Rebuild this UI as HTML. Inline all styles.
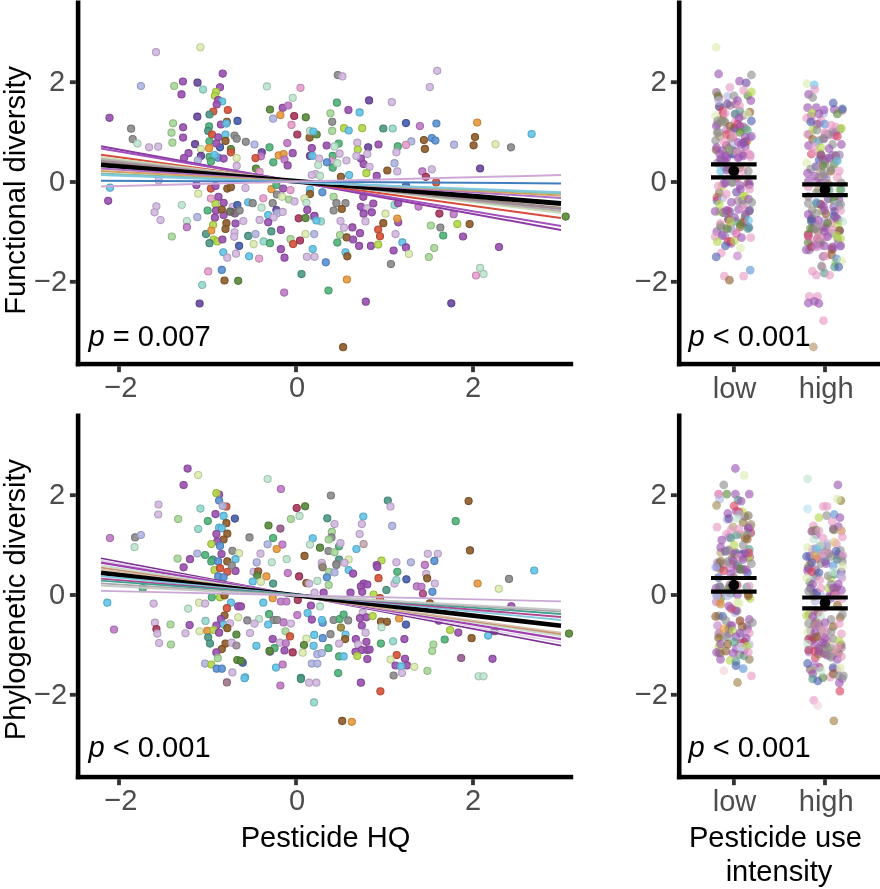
<!DOCTYPE html>
<html><head><meta charset="utf-8"><style>
html,body{margin:0;padding:0;background:#fff;width:880px;height:889px;overflow:hidden}
svg{display:block;font-family:"Liberation Sans", sans-serif;will-change:transform}
</style></head><body>
<svg width="880" height="889" viewBox="0 0 880 889"><rect width="880" height="889" fill="#fff"/><circle cx="156.0" cy="52.2" r="3.55" fill="#d2b8e0" fill-opacity="0.92" stroke="#b49ec0" stroke-width="1.1"/><circle cx="200.4" cy="47.3" r="3.55" fill="#dcecb0" fill-opacity="0.92" stroke="#bdca97" stroke-width="1.1"/><circle cx="222.7" cy="73.6" r="3.55" fill="#9a52b0" fill-opacity="0.92" stroke="#844697" stroke-width="1.1"/><circle cx="140.9" cy="86.0" r="3.55" fill="#b0b6e2" fill-opacity="0.92" stroke="#979cc2" stroke-width="1.1"/><circle cx="174.2" cy="86.0" r="3.55" fill="#a8d89a" fill-opacity="0.92" stroke="#90b984" stroke-width="1.1"/><circle cx="182.9" cy="81.5" r="3.55" fill="#9a52b0" fill-opacity="0.92" stroke="#844697" stroke-width="1.1"/><circle cx="197.5" cy="82.7" r="3.55" fill="#6c4a9e" fill-opacity="0.92" stroke="#5c3f87" stroke-width="1.1"/><circle cx="203.1" cy="89.6" r="3.55" fill="#96d8cc" fill-opacity="0.92" stroke="#81b9af" stroke-width="1.1"/><circle cx="181.5" cy="94.4" r="3.55" fill="#9a52b0" fill-opacity="0.92" stroke="#844697" stroke-width="1.1"/><circle cx="220.0" cy="87.3" r="3.55" fill="#9a52b0" fill-opacity="0.92" stroke="#844697" stroke-width="1.1"/><circle cx="216.0" cy="91.8" r="3.55" fill="#b4d84a" fill-opacity="0.92" stroke="#9ab93f" stroke-width="1.1"/><circle cx="214.9" cy="95.8" r="3.55" fill="#b4d84a" fill-opacity="0.92" stroke="#9ab93f" stroke-width="1.1"/><circle cx="218.2" cy="100.0" r="3.55" fill="#9a52b0" fill-opacity="0.92" stroke="#844697" stroke-width="1.1"/><circle cx="222.2" cy="101.5" r="3.55" fill="#64c4e6" fill-opacity="0.92" stroke="#56a8c5" stroke-width="1.1"/><circle cx="216.7" cy="104.5" r="3.55" fill="#9a52b0" fill-opacity="0.92" stroke="#844697" stroke-width="1.1"/><circle cx="213.3" cy="111.5" r="3.55" fill="#d4553a" fill-opacity="0.92" stroke="#b64931" stroke-width="1.1"/><circle cx="209.5" cy="114.5" r="3.55" fill="#4f9a88" fill-opacity="0.92" stroke="#438474" stroke-width="1.1"/><circle cx="227.8" cy="110.0" r="3.55" fill="#d4553a" fill-opacity="0.92" stroke="#b64931" stroke-width="1.1"/><circle cx="109.5" cy="117.8" r="3.55" fill="#9a52b0" fill-opacity="0.92" stroke="#844697" stroke-width="1.1"/><circle cx="197.3" cy="116.7" r="3.55" fill="#6c4a9e" fill-opacity="0.92" stroke="#5c3f87" stroke-width="1.1"/><circle cx="131.1" cy="128.7" r="3.55" fill="#8c8c8c" fill-opacity="0.92" stroke="#787878" stroke-width="1.1"/><circle cx="132.7" cy="139.1" r="3.55" fill="#8c8c8c" fill-opacity="0.92" stroke="#787878" stroke-width="1.1"/><circle cx="137.5" cy="143.6" r="3.55" fill="#bfe5cf" fill-opacity="0.92" stroke="#a4c4b2" stroke-width="1.1"/><circle cx="173.1" cy="123.3" r="3.55" fill="#a8d89a" fill-opacity="0.92" stroke="#90b984" stroke-width="1.1"/><circle cx="171.5" cy="132.7" r="3.55" fill="#a8d89a" fill-opacity="0.92" stroke="#90b984" stroke-width="1.1"/><circle cx="172.4" cy="142.7" r="3.55" fill="#a8d89a" fill-opacity="0.92" stroke="#90b984" stroke-width="1.1"/><circle cx="183.1" cy="127.3" r="3.55" fill="#9a52b0" fill-opacity="0.92" stroke="#844697" stroke-width="1.1"/><circle cx="183.1" cy="137.6" r="3.55" fill="#9a52b0" fill-opacity="0.92" stroke="#844697" stroke-width="1.1"/><circle cx="195.1" cy="144.2" r="3.55" fill="#6c4a9e" fill-opacity="0.92" stroke="#5c3f87" stroke-width="1.1"/><circle cx="149.1" cy="147.3" r="3.55" fill="#d2b8e0" fill-opacity="0.92" stroke="#b49ec0" stroke-width="1.1"/><circle cx="158.2" cy="146.7" r="3.55" fill="#d2b8e0" fill-opacity="0.92" stroke="#b49ec0" stroke-width="1.1"/><circle cx="209.1" cy="126.4" r="3.55" fill="#52b27a" fill-opacity="0.92" stroke="#469968" stroke-width="1.1"/><circle cx="208.2" cy="130.9" r="3.55" fill="#4f9a88" fill-opacity="0.92" stroke="#438474" stroke-width="1.1"/><circle cx="212.0" cy="134.5" r="3.55" fill="#d4553a" fill-opacity="0.92" stroke="#b64931" stroke-width="1.1"/><circle cx="209.5" cy="141.3" r="3.55" fill="#52b27a" fill-opacity="0.92" stroke="#469968" stroke-width="1.1"/><circle cx="220.9" cy="124.5" r="3.55" fill="#9a52b0" fill-opacity="0.92" stroke="#844697" stroke-width="1.1"/><circle cx="226.9" cy="121.8" r="3.55" fill="#8e5e2c" fill-opacity="0.92" stroke="#7a5025" stroke-width="1.1"/><circle cx="226.4" cy="123.6" r="3.55" fill="#64c4e6" fill-opacity="0.92" stroke="#56a8c5" stroke-width="1.1"/><circle cx="237.5" cy="120.9" r="3.55" fill="#4a5fae" fill-opacity="0.92" stroke="#3f5195" stroke-width="1.1"/><circle cx="218.2" cy="137.3" r="3.55" fill="#9a52b0" fill-opacity="0.92" stroke="#844697" stroke-width="1.1"/><circle cx="225.5" cy="134.5" r="3.55" fill="#64c4e6" fill-opacity="0.92" stroke="#56a8c5" stroke-width="1.1"/><circle cx="234.5" cy="135.5" r="3.55" fill="#8c8c8c" fill-opacity="0.92" stroke="#787878" stroke-width="1.1"/><circle cx="236.7" cy="138.7" r="3.55" fill="#8c8c8c" fill-opacity="0.92" stroke="#787878" stroke-width="1.1"/><circle cx="225.5" cy="140.9" r="3.55" fill="#8e5e2c" fill-opacity="0.92" stroke="#7a5025" stroke-width="1.1"/><circle cx="209.1" cy="148.2" r="3.55" fill="#e89a40" fill-opacity="0.92" stroke="#c78437" stroke-width="1.1"/><circle cx="220.0" cy="147.3" r="3.55" fill="#4a5fae" fill-opacity="0.92" stroke="#3f5195" stroke-width="1.1"/><circle cx="216.4" cy="143.6" r="3.55" fill="#9a52b0" fill-opacity="0.92" stroke="#844697" stroke-width="1.1"/><circle cx="230.9" cy="149.1" r="3.55" fill="#5a8a3c" fill-opacity="0.92" stroke="#4d7633" stroke-width="1.1"/><circle cx="337.8" cy="75.1" r="3.55" fill="#8c8c8c" fill-opacity="0.92" stroke="#787878" stroke-width="1.1"/><circle cx="342.4" cy="76.4" r="3.55" fill="#d2b8e0" fill-opacity="0.92" stroke="#b49ec0" stroke-width="1.1"/><circle cx="266.9" cy="86.4" r="3.55" fill="#bfe5cf" fill-opacity="0.92" stroke="#a4c4b2" stroke-width="1.1"/><circle cx="300.5" cy="87.8" r="3.55" fill="#e6a0cc" fill-opacity="0.92" stroke="#c589af" stroke-width="1.1"/><circle cx="292.7" cy="97.8" r="3.55" fill="#bfe5cf" fill-opacity="0.92" stroke="#a4c4b2" stroke-width="1.1"/><circle cx="270.0" cy="109.5" r="3.55" fill="#5a8a3c" fill-opacity="0.92" stroke="#4d7633" stroke-width="1.1"/><circle cx="282.7" cy="107.8" r="3.55" fill="#9a52b0" fill-opacity="0.92" stroke="#844697" stroke-width="1.1"/><circle cx="288.2" cy="105.5" r="3.55" fill="#c07cc8" fill-opacity="0.92" stroke="#a56aac" stroke-width="1.1"/><circle cx="280.4" cy="115.1" r="3.55" fill="#e89a40" fill-opacity="0.92" stroke="#c78437" stroke-width="1.1"/><circle cx="273.1" cy="118.7" r="3.55" fill="#b0b6e2" fill-opacity="0.92" stroke="#979cc2" stroke-width="1.1"/><circle cx="294.2" cy="116.0" r="3.55" fill="#a83a5e" fill-opacity="0.92" stroke="#903150" stroke-width="1.1"/><circle cx="305.8" cy="117.3" r="3.55" fill="#5a8a3c" fill-opacity="0.92" stroke="#4d7633" stroke-width="1.1"/><circle cx="291.5" cy="124.9" r="3.55" fill="#e6a0cc" fill-opacity="0.92" stroke="#c589af" stroke-width="1.1"/><circle cx="297.3" cy="134.5" r="3.55" fill="#a83a5e" fill-opacity="0.92" stroke="#903150" stroke-width="1.1"/><circle cx="309.6" cy="137.6" r="3.55" fill="#8e5e2c" fill-opacity="0.92" stroke="#7a5025" stroke-width="1.1"/><circle cx="316.7" cy="134.5" r="3.55" fill="#5a8a3c" fill-opacity="0.92" stroke="#4d7633" stroke-width="1.1"/><circle cx="310.0" cy="130.9" r="3.55" fill="#bfe5cf" fill-opacity="0.92" stroke="#a4c4b2" stroke-width="1.1"/><circle cx="313.3" cy="131.5" r="3.55" fill="#64c4e6" fill-opacity="0.92" stroke="#56a8c5" stroke-width="1.1"/><circle cx="245.8" cy="141.8" r="3.55" fill="#8c8c8c" fill-opacity="0.92" stroke="#787878" stroke-width="1.1"/><circle cx="254.5" cy="144.5" r="3.55" fill="#b0b6e2" fill-opacity="0.92" stroke="#979cc2" stroke-width="1.1"/><circle cx="287.3" cy="143.1" r="3.55" fill="#c07cc8" fill-opacity="0.92" stroke="#a56aac" stroke-width="1.1"/><circle cx="269.5" cy="147.3" r="3.55" fill="#52b27a" fill-opacity="0.92" stroke="#469968" stroke-width="1.1"/><circle cx="336.9" cy="102.7" r="3.55" fill="#52b27a" fill-opacity="0.92" stroke="#469968" stroke-width="1.1"/><circle cx="330.4" cy="113.3" r="3.55" fill="#a8d89a" fill-opacity="0.92" stroke="#90b984" stroke-width="1.1"/><circle cx="332.2" cy="121.8" r="3.55" fill="#8c8c8c" fill-opacity="0.92" stroke="#787878" stroke-width="1.1"/><circle cx="332.2" cy="130.9" r="3.55" fill="#a8d89a" fill-opacity="0.92" stroke="#90b984" stroke-width="1.1"/><circle cx="348.4" cy="110.0" r="3.55" fill="#9a52b0" fill-opacity="0.92" stroke="#844697" stroke-width="1.1"/><circle cx="359.6" cy="112.4" r="3.55" fill="#64c4e6" fill-opacity="0.92" stroke="#56a8c5" stroke-width="1.1"/><circle cx="369.1" cy="100.4" r="3.55" fill="#6c4a9e" fill-opacity="0.92" stroke="#5c3f87" stroke-width="1.1"/><circle cx="391.8" cy="102.2" r="3.55" fill="#d2b8e0" fill-opacity="0.92" stroke="#b49ec0" stroke-width="1.1"/><circle cx="344.0" cy="128.2" r="3.55" fill="#b4d84a" fill-opacity="0.92" stroke="#9ab93f" stroke-width="1.1"/><circle cx="348.7" cy="130.5" r="3.55" fill="#64c4e6" fill-opacity="0.92" stroke="#56a8c5" stroke-width="1.1"/><circle cx="362.2" cy="128.2" r="3.55" fill="#b4d84a" fill-opacity="0.92" stroke="#9ab93f" stroke-width="1.1"/><circle cx="383.3" cy="128.5" r="3.55" fill="#4f9a88" fill-opacity="0.92" stroke="#438474" stroke-width="1.1"/><circle cx="392.7" cy="128.5" r="3.55" fill="#96d8cc" fill-opacity="0.92" stroke="#81b9af" stroke-width="1.1"/><circle cx="311.8" cy="148.2" r="3.55" fill="#9a52b0" fill-opacity="0.92" stroke="#844697" stroke-width="1.1"/><circle cx="326.7" cy="145.5" r="3.55" fill="#9a52b0" fill-opacity="0.92" stroke="#844697" stroke-width="1.1"/><circle cx="338.7" cy="143.6" r="3.55" fill="#52b27a" fill-opacity="0.92" stroke="#469968" stroke-width="1.1"/><circle cx="334.5" cy="146.4" r="3.55" fill="#bfe5cf" fill-opacity="0.92" stroke="#a4c4b2" stroke-width="1.1"/><circle cx="357.3" cy="142.7" r="3.55" fill="#d2b8e0" fill-opacity="0.92" stroke="#b49ec0" stroke-width="1.1"/><circle cx="368.2" cy="147.3" r="3.55" fill="#6c4a9e" fill-opacity="0.92" stroke="#5c3f87" stroke-width="1.1"/><circle cx="378.5" cy="144.5" r="3.55" fill="#9a52b0" fill-opacity="0.92" stroke="#844697" stroke-width="1.1"/><circle cx="397.8" cy="146.4" r="3.55" fill="#52b27a" fill-opacity="0.92" stroke="#469968" stroke-width="1.1"/><circle cx="437.2" cy="70.8" r="3.55" fill="#d2b8e0" fill-opacity="0.92" stroke="#b49ec0" stroke-width="1.1"/><circle cx="429.8" cy="87.1" r="3.55" fill="#d2b8e0" fill-opacity="0.92" stroke="#b49ec0" stroke-width="1.1"/><circle cx="406.0" cy="123.1" r="3.55" fill="#4a5fae" fill-opacity="0.92" stroke="#3f5195" stroke-width="1.1"/><circle cx="419.9" cy="126.1" r="3.55" fill="#c07cc8" fill-opacity="0.92" stroke="#a56aac" stroke-width="1.1"/><circle cx="436.4" cy="123.5" r="3.55" fill="#5b93d4" fill-opacity="0.92" stroke="#4e7eb6" stroke-width="1.1"/><circle cx="477.2" cy="122.5" r="3.55" fill="#e89a40" fill-opacity="0.92" stroke="#c78437" stroke-width="1.1"/><circle cx="531.6" cy="134.0" r="3.55" fill="#64c4e6" fill-opacity="0.92" stroke="#56a8c5" stroke-width="1.1"/><circle cx="423.9" cy="140.0" r="3.55" fill="#8e5e2c" fill-opacity="0.92" stroke="#7a5025" stroke-width="1.1"/><circle cx="411.3" cy="141.4" r="3.55" fill="#b0b6e2" fill-opacity="0.92" stroke="#979cc2" stroke-width="1.1"/><circle cx="406.0" cy="144.9" r="3.55" fill="#e6a0cc" fill-opacity="0.92" stroke="#c589af" stroke-width="1.1"/><circle cx="431.8" cy="138.0" r="3.55" fill="#5b93d4" fill-opacity="0.92" stroke="#4e7eb6" stroke-width="1.1"/><circle cx="435.4" cy="140.6" r="3.55" fill="#5b93d4" fill-opacity="0.92" stroke="#4e7eb6" stroke-width="1.1"/><circle cx="454.1" cy="144.7" r="3.55" fill="#b0b6e2" fill-opacity="0.92" stroke="#979cc2" stroke-width="1.1"/><circle cx="475.0" cy="137.0" r="3.55" fill="#8e5e2c" fill-opacity="0.92" stroke="#7a5025" stroke-width="1.1"/><circle cx="473.6" cy="145.3" r="3.55" fill="#8e5e2c" fill-opacity="0.92" stroke="#7a5025" stroke-width="1.1"/><circle cx="495.5" cy="144.3" r="3.55" fill="#dcecb0" fill-opacity="0.92" stroke="#bdca97" stroke-width="1.1"/><circle cx="511.0" cy="147.3" r="3.55" fill="#8c8c8c" fill-opacity="0.92" stroke="#787878" stroke-width="1.1"/><circle cx="424.9" cy="148.9" r="3.55" fill="#8e5e2c" fill-opacity="0.92" stroke="#7a5025" stroke-width="1.1"/><circle cx="188.5" cy="153.2" r="3.55" fill="#9a52b0" fill-opacity="0.92" stroke="#844697" stroke-width="1.1"/><circle cx="184.0" cy="158.1" r="3.55" fill="#9a52b0" fill-opacity="0.92" stroke="#844697" stroke-width="1.1"/><circle cx="200.9" cy="149.0" r="3.55" fill="#dcecb0" fill-opacity="0.92" stroke="#bdca97" stroke-width="1.1"/><circle cx="218.2" cy="157.7" r="3.55" fill="#5b93d4" fill-opacity="0.92" stroke="#4e7eb6" stroke-width="1.1"/><circle cx="209.5" cy="156.8" r="3.55" fill="#52b27a" fill-opacity="0.92" stroke="#469968" stroke-width="1.1"/><circle cx="214.5" cy="155.0" r="3.55" fill="#64c4e6" fill-opacity="0.92" stroke="#56a8c5" stroke-width="1.1"/><circle cx="223.6" cy="158.6" r="3.55" fill="#9a52b0" fill-opacity="0.92" stroke="#844697" stroke-width="1.1"/><circle cx="200.9" cy="155.9" r="3.55" fill="#6c4a9e" fill-opacity="0.92" stroke="#5c3f87" stroke-width="1.1"/><circle cx="197.8" cy="160.5" r="3.55" fill="#b0b6e2" fill-opacity="0.92" stroke="#979cc2" stroke-width="1.1"/><circle cx="210.9" cy="161.4" r="3.55" fill="#52b27a" fill-opacity="0.92" stroke="#469968" stroke-width="1.1"/><circle cx="230.9" cy="152.3" r="3.55" fill="#d4553a" fill-opacity="0.92" stroke="#b64931" stroke-width="1.1"/><circle cx="236.7" cy="158.1" r="3.55" fill="#dcecb0" fill-opacity="0.92" stroke="#bdca97" stroke-width="1.1"/><circle cx="236.7" cy="165.9" r="3.55" fill="#d2b8e0" fill-opacity="0.92" stroke="#b49ec0" stroke-width="1.1"/><circle cx="110.0" cy="187.7" r="3.55" fill="#64c4e6" fill-opacity="0.92" stroke="#56a8c5" stroke-width="1.1"/><circle cx="108.2" cy="200.8" r="3.55" fill="#9a52b0" fill-opacity="0.92" stroke="#844697" stroke-width="1.1"/><circle cx="156.4" cy="206.3" r="3.55" fill="#d2b8e0" fill-opacity="0.92" stroke="#b49ec0" stroke-width="1.1"/><circle cx="154.5" cy="212.3" r="3.55" fill="#d2b8e0" fill-opacity="0.92" stroke="#b49ec0" stroke-width="1.1"/><circle cx="160.5" cy="220.1" r="3.55" fill="#d2b8e0" fill-opacity="0.92" stroke="#b49ec0" stroke-width="1.1"/><circle cx="158.7" cy="180.5" r="3.55" fill="#d2b8e0" fill-opacity="0.92" stroke="#b49ec0" stroke-width="1.1"/><circle cx="181.8" cy="205.0" r="3.55" fill="#bfe5cf" fill-opacity="0.92" stroke="#a4c4b2" stroke-width="1.1"/><circle cx="171.8" cy="236.5" r="3.55" fill="#a8d89a" fill-opacity="0.92" stroke="#90b984" stroke-width="1.1"/><circle cx="197.3" cy="217.2" r="3.55" fill="#b0b6e2" fill-opacity="0.92" stroke="#979cc2" stroke-width="1.1"/><circle cx="186.9" cy="221.0" r="3.55" fill="#bfe5cf" fill-opacity="0.92" stroke="#a4c4b2" stroke-width="1.1"/><circle cx="186.9" cy="227.2" r="3.55" fill="#c07cc8" fill-opacity="0.92" stroke="#a56aac" stroke-width="1.1"/><circle cx="196.4" cy="185.0" r="3.55" fill="#9a52b0" fill-opacity="0.92" stroke="#844697" stroke-width="1.1"/><circle cx="198.2" cy="193.7" r="3.55" fill="#dcecb0" fill-opacity="0.92" stroke="#bdca97" stroke-width="1.1"/><circle cx="210.9" cy="188.6" r="3.55" fill="#d4553a" fill-opacity="0.92" stroke="#b64931" stroke-width="1.1"/><circle cx="215.5" cy="185.9" r="3.55" fill="#9a52b0" fill-opacity="0.92" stroke="#844697" stroke-width="1.1"/><circle cx="227.3" cy="188.6" r="3.55" fill="#8e5e2c" fill-opacity="0.92" stroke="#7a5025" stroke-width="1.1"/><circle cx="230.9" cy="187.2" r="3.55" fill="#8e5e2c" fill-opacity="0.92" stroke="#7a5025" stroke-width="1.1"/><circle cx="210.9" cy="198.6" r="3.55" fill="#e6a0cc" fill-opacity="0.92" stroke="#c589af" stroke-width="1.1"/><circle cx="218.5" cy="196.8" r="3.55" fill="#9a52b0" fill-opacity="0.92" stroke="#844697" stroke-width="1.1"/><circle cx="223.6" cy="202.8" r="3.55" fill="#9a52b0" fill-opacity="0.92" stroke="#844697" stroke-width="1.1"/><circle cx="215.5" cy="204.1" r="3.55" fill="#b4d84a" fill-opacity="0.92" stroke="#9ab93f" stroke-width="1.1"/><circle cx="207.6" cy="210.5" r="3.55" fill="#52b27a" fill-opacity="0.92" stroke="#469968" stroke-width="1.1"/><circle cx="216.0" cy="210.5" r="3.55" fill="#9a52b0" fill-opacity="0.92" stroke="#844697" stroke-width="1.1"/><circle cx="223.6" cy="215.0" r="3.55" fill="#9a52b0" fill-opacity="0.92" stroke="#844697" stroke-width="1.1"/><circle cx="221.8" cy="209.5" r="3.55" fill="#8e5e2c" fill-opacity="0.92" stroke="#7a5025" stroke-width="1.1"/><circle cx="214.9" cy="217.7" r="3.55" fill="#9a52b0" fill-opacity="0.92" stroke="#844697" stroke-width="1.1"/><circle cx="232.7" cy="206.8" r="3.55" fill="#d2b8e0" fill-opacity="0.92" stroke="#b49ec0" stroke-width="1.1"/><circle cx="233.6" cy="212.3" r="3.55" fill="#8c8c8c" fill-opacity="0.92" stroke="#787878" stroke-width="1.1"/><circle cx="237.3" cy="205.0" r="3.55" fill="#4a5fae" fill-opacity="0.92" stroke="#3f5195" stroke-width="1.1"/><circle cx="213.1" cy="225.0" r="3.55" fill="#b4d84a" fill-opacity="0.92" stroke="#9ab93f" stroke-width="1.1"/><circle cx="226.4" cy="223.2" r="3.55" fill="#8e5e2c" fill-opacity="0.92" stroke="#7a5025" stroke-width="1.1"/><circle cx="225.5" cy="229.0" r="3.55" fill="#8e5e2c" fill-opacity="0.92" stroke="#7a5025" stroke-width="1.1"/><circle cx="235.5" cy="223.5" r="3.55" fill="#9a52b0" fill-opacity="0.92" stroke="#844697" stroke-width="1.1"/><circle cx="206.0" cy="234.1" r="3.55" fill="#4f9a88" fill-opacity="0.92" stroke="#438474" stroke-width="1.1"/><circle cx="211.3" cy="230.5" r="3.55" fill="#e89a40" fill-opacity="0.92" stroke="#c78437" stroke-width="1.1"/><circle cx="213.6" cy="239.5" r="3.55" fill="#b4d84a" fill-opacity="0.92" stroke="#9ab93f" stroke-width="1.1"/><circle cx="217.3" cy="241.4" r="3.55" fill="#b4d84a" fill-opacity="0.92" stroke="#9ab93f" stroke-width="1.1"/><circle cx="222.4" cy="239.5" r="3.55" fill="#9a52b0" fill-opacity="0.92" stroke="#844697" stroke-width="1.1"/><circle cx="209.5" cy="243.2" r="3.55" fill="#4f9a88" fill-opacity="0.92" stroke="#438474" stroke-width="1.1"/><circle cx="234.5" cy="232.3" r="3.55" fill="#d2b8e0" fill-opacity="0.92" stroke="#b49ec0" stroke-width="1.1"/><circle cx="234.2" cy="236.8" r="3.55" fill="#d2b8e0" fill-opacity="0.92" stroke="#b49ec0" stroke-width="1.1"/><circle cx="239.1" cy="245.9" r="3.55" fill="#4a5fae" fill-opacity="0.92" stroke="#3f5195" stroke-width="1.1"/><circle cx="223.3" cy="252.3" r="3.55" fill="#64c4e6" fill-opacity="0.92" stroke="#56a8c5" stroke-width="1.1"/><circle cx="227.3" cy="257.7" r="3.55" fill="#d2b8e0" fill-opacity="0.92" stroke="#b49ec0" stroke-width="1.1"/><circle cx="236.0" cy="253.7" r="3.55" fill="#d2b8e0" fill-opacity="0.92" stroke="#b49ec0" stroke-width="1.1"/><circle cx="261.8" cy="152.3" r="3.55" fill="#6c4a9e" fill-opacity="0.92" stroke="#5c3f87" stroke-width="1.1"/><circle cx="260.9" cy="156.3" r="3.55" fill="#c07cc8" fill-opacity="0.92" stroke="#a56aac" stroke-width="1.1"/><circle cx="255.5" cy="158.1" r="3.55" fill="#d4553a" fill-opacity="0.92" stroke="#b64931" stroke-width="1.1"/><circle cx="278.7" cy="155.4" r="3.55" fill="#e89a40" fill-opacity="0.92" stroke="#c78437" stroke-width="1.1"/><circle cx="283.6" cy="154.1" r="3.55" fill="#e89a40" fill-opacity="0.92" stroke="#c78437" stroke-width="1.1"/><circle cx="292.7" cy="153.2" r="3.55" fill="#9a52b0" fill-opacity="0.92" stroke="#844697" stroke-width="1.1"/><circle cx="284.5" cy="159.5" r="3.55" fill="#c07cc8" fill-opacity="0.92" stroke="#a56aac" stroke-width="1.1"/><circle cx="287.6" cy="165.4" r="3.55" fill="#9a52b0" fill-opacity="0.92" stroke="#844697" stroke-width="1.1"/><circle cx="273.3" cy="162.3" r="3.55" fill="#52b27a" fill-opacity="0.92" stroke="#469968" stroke-width="1.1"/><circle cx="256.0" cy="168.6" r="3.55" fill="#5a8a3c" fill-opacity="0.92" stroke="#4d7633" stroke-width="1.1"/><circle cx="259.6" cy="171.9" r="3.55" fill="#e6a0cc" fill-opacity="0.92" stroke="#c589af" stroke-width="1.1"/><circle cx="310.0" cy="155.9" r="3.55" fill="#6c4a9e" fill-opacity="0.92" stroke="#5c3f87" stroke-width="1.1"/><circle cx="312.4" cy="155.9" r="3.55" fill="#64c4e6" fill-opacity="0.92" stroke="#56a8c5" stroke-width="1.1"/><circle cx="319.1" cy="158.6" r="3.55" fill="#d2b8e0" fill-opacity="0.92" stroke="#b49ec0" stroke-width="1.1"/><circle cx="318.2" cy="165.0" r="3.55" fill="#bfe5cf" fill-opacity="0.92" stroke="#a4c4b2" stroke-width="1.1"/><circle cx="332.7" cy="155.9" r="3.55" fill="#52b27a" fill-opacity="0.92" stroke="#469968" stroke-width="1.1"/><circle cx="331.8" cy="161.4" r="3.55" fill="#e6a0cc" fill-opacity="0.92" stroke="#c589af" stroke-width="1.1"/><circle cx="332.7" cy="167.7" r="3.55" fill="#52b27a" fill-opacity="0.92" stroke="#469968" stroke-width="1.1"/><circle cx="326.9" cy="162.3" r="3.55" fill="#5b93d4" fill-opacity="0.92" stroke="#4e7eb6" stroke-width="1.1"/><circle cx="337.3" cy="163.2" r="3.55" fill="#bfe5cf" fill-opacity="0.92" stroke="#a4c4b2" stroke-width="1.1"/><circle cx="339.6" cy="153.7" r="3.55" fill="#d2b8e0" fill-opacity="0.92" stroke="#b49ec0" stroke-width="1.1"/><circle cx="346.4" cy="160.5" r="3.55" fill="#d2b8e0" fill-opacity="0.92" stroke="#b49ec0" stroke-width="1.1"/><circle cx="357.8" cy="149.5" r="3.55" fill="#b4d84a" fill-opacity="0.92" stroke="#9ab93f" stroke-width="1.1"/><circle cx="367.3" cy="154.1" r="3.55" fill="#d2b8e0" fill-opacity="0.92" stroke="#b49ec0" stroke-width="1.1"/><circle cx="360.9" cy="158.6" r="3.55" fill="#9a52b0" fill-opacity="0.92" stroke="#844697" stroke-width="1.1"/><circle cx="363.6" cy="164.1" r="3.55" fill="#9a52b0" fill-opacity="0.92" stroke="#844697" stroke-width="1.1"/><circle cx="356.4" cy="155.9" r="3.55" fill="#d2b8e0" fill-opacity="0.92" stroke="#b49ec0" stroke-width="1.1"/><circle cx="369.5" cy="166.8" r="3.55" fill="#d2b8e0" fill-opacity="0.92" stroke="#b49ec0" stroke-width="1.1"/><circle cx="387.3" cy="170.5" r="3.55" fill="#8e5e2c" fill-opacity="0.92" stroke="#7a5025" stroke-width="1.1"/><circle cx="397.3" cy="171.4" r="3.55" fill="#d2b8e0" fill-opacity="0.92" stroke="#b49ec0" stroke-width="1.1"/><circle cx="394.5" cy="163.2" r="3.55" fill="#b0b6e2" fill-opacity="0.92" stroke="#979cc2" stroke-width="1.1"/><circle cx="396.4" cy="152.3" r="3.55" fill="#d2b8e0" fill-opacity="0.92" stroke="#b49ec0" stroke-width="1.1"/><circle cx="366.4" cy="173.2" r="3.55" fill="#b4d84a" fill-opacity="0.92" stroke="#9ab93f" stroke-width="1.1"/><circle cx="376.7" cy="175.9" r="3.55" fill="#9a52b0" fill-opacity="0.92" stroke="#844697" stroke-width="1.1"/><circle cx="349.1" cy="175.0" r="3.55" fill="#64c4e6" fill-opacity="0.92" stroke="#56a8c5" stroke-width="1.1"/><circle cx="340.9" cy="176.8" r="3.55" fill="#8e5e2c" fill-opacity="0.92" stroke="#7a5025" stroke-width="1.1"/><circle cx="315.5" cy="174.1" r="3.55" fill="#d2b8e0" fill-opacity="0.92" stroke="#b49ec0" stroke-width="1.1"/><circle cx="311.8" cy="175.0" r="3.55" fill="#d2b8e0" fill-opacity="0.92" stroke="#b49ec0" stroke-width="1.1"/><circle cx="320.0" cy="175.9" r="3.55" fill="#bfe5cf" fill-opacity="0.92" stroke="#a4c4b2" stroke-width="1.1"/><circle cx="245.5" cy="188.1" r="3.55" fill="#d2b8e0" fill-opacity="0.92" stroke="#b49ec0" stroke-width="1.1"/><circle cx="271.5" cy="189.2" r="3.55" fill="#e89a40" fill-opacity="0.92" stroke="#c78437" stroke-width="1.1"/><circle cx="283.1" cy="188.6" r="3.55" fill="#9a52b0" fill-opacity="0.92" stroke="#844697" stroke-width="1.1"/><circle cx="290.5" cy="190.1" r="3.55" fill="#e6a0cc" fill-opacity="0.92" stroke="#c589af" stroke-width="1.1"/><circle cx="276.9" cy="194.5" r="3.55" fill="#8c8c8c" fill-opacity="0.92" stroke="#787878" stroke-width="1.1"/><circle cx="276.4" cy="185.0" r="3.55" fill="#52b27a" fill-opacity="0.92" stroke="#469968" stroke-width="1.1"/><circle cx="310.0" cy="189.5" r="3.55" fill="#64c4e6" fill-opacity="0.92" stroke="#56a8c5" stroke-width="1.1"/><circle cx="310.0" cy="194.1" r="3.55" fill="#8e5e2c" fill-opacity="0.92" stroke="#7a5025" stroke-width="1.1"/><circle cx="322.4" cy="192.3" r="3.55" fill="#5b93d4" fill-opacity="0.92" stroke="#4e7eb6" stroke-width="1.1"/><circle cx="363.3" cy="196.8" r="3.55" fill="#9a52b0" fill-opacity="0.92" stroke="#844697" stroke-width="1.1"/><circle cx="282.2" cy="196.8" r="3.55" fill="#dcecb0" fill-opacity="0.92" stroke="#bdca97" stroke-width="1.1"/><circle cx="263.3" cy="198.3" r="3.55" fill="#e6a0cc" fill-opacity="0.92" stroke="#c589af" stroke-width="1.1"/><circle cx="248.2" cy="202.3" r="3.55" fill="#64c4e6" fill-opacity="0.92" stroke="#56a8c5" stroke-width="1.1"/><circle cx="252.7" cy="203.2" r="3.55" fill="#8c8c8c" fill-opacity="0.92" stroke="#787878" stroke-width="1.1"/><circle cx="261.5" cy="207.7" r="3.55" fill="#bfe5cf" fill-opacity="0.92" stroke="#a4c4b2" stroke-width="1.1"/><circle cx="272.7" cy="203.2" r="3.55" fill="#8c8c8c" fill-opacity="0.92" stroke="#787878" stroke-width="1.1"/><circle cx="289.1" cy="199.5" r="3.55" fill="#a8d89a" fill-opacity="0.92" stroke="#90b984" stroke-width="1.1"/><circle cx="294.5" cy="201.4" r="3.55" fill="#d2b8e0" fill-opacity="0.92" stroke="#b49ec0" stroke-width="1.1"/><circle cx="304.5" cy="198.6" r="3.55" fill="#dcecb0" fill-opacity="0.92" stroke="#bdca97" stroke-width="1.1"/><circle cx="306.4" cy="202.8" r="3.55" fill="#bfe5cf" fill-opacity="0.92" stroke="#a4c4b2" stroke-width="1.1"/><circle cx="333.6" cy="196.8" r="3.55" fill="#a8d89a" fill-opacity="0.92" stroke="#90b984" stroke-width="1.1"/><circle cx="336.4" cy="203.2" r="3.55" fill="#8c8c8c" fill-opacity="0.92" stroke="#787878" stroke-width="1.1"/><circle cx="345.5" cy="203.2" r="3.55" fill="#8c8c8c" fill-opacity="0.92" stroke="#787878" stroke-width="1.1"/><circle cx="333.6" cy="210.5" r="3.55" fill="#8c8c8c" fill-opacity="0.92" stroke="#787878" stroke-width="1.1"/><circle cx="341.8" cy="209.0" r="3.55" fill="#8e5e2c" fill-opacity="0.92" stroke="#7a5025" stroke-width="1.1"/><circle cx="307.3" cy="209.9" r="3.55" fill="#9a52b0" fill-opacity="0.92" stroke="#844697" stroke-width="1.1"/><circle cx="276.4" cy="210.1" r="3.55" fill="#6c4a9e" fill-opacity="0.92" stroke="#5c3f87" stroke-width="1.1"/><circle cx="268.2" cy="215.0" r="3.55" fill="#64c4e6" fill-opacity="0.92" stroke="#56a8c5" stroke-width="1.1"/><circle cx="277.3" cy="213.2" r="3.55" fill="#b0b6e2" fill-opacity="0.92" stroke="#979cc2" stroke-width="1.1"/><circle cx="282.7" cy="211.9" r="3.55" fill="#d2b8e0" fill-opacity="0.92" stroke="#b49ec0" stroke-width="1.1"/><circle cx="273.6" cy="217.4" r="3.55" fill="#d2b8e0" fill-opacity="0.92" stroke="#b49ec0" stroke-width="1.1"/><circle cx="360.9" cy="206.8" r="3.55" fill="#9a52b0" fill-opacity="0.92" stroke="#844697" stroke-width="1.1"/><circle cx="367.3" cy="208.3" r="3.55" fill="#d2b8e0" fill-opacity="0.92" stroke="#b49ec0" stroke-width="1.1"/><circle cx="373.3" cy="203.5" r="3.55" fill="#9a52b0" fill-opacity="0.92" stroke="#844697" stroke-width="1.1"/><circle cx="363.6" cy="213.7" r="3.55" fill="#9a52b0" fill-opacity="0.92" stroke="#844697" stroke-width="1.1"/><circle cx="371.8" cy="212.3" r="3.55" fill="#9a52b0" fill-opacity="0.92" stroke="#844697" stroke-width="1.1"/><circle cx="385.5" cy="213.7" r="3.55" fill="#dcecb0" fill-opacity="0.92" stroke="#bdca97" stroke-width="1.1"/><circle cx="394.5" cy="205.0" r="3.55" fill="#96d8cc" fill-opacity="0.92" stroke="#81b9af" stroke-width="1.1"/><circle cx="398.2" cy="203.2" r="3.55" fill="#9a52b0" fill-opacity="0.92" stroke="#844697" stroke-width="1.1"/><circle cx="243.3" cy="221.0" r="3.55" fill="#d2b8e0" fill-opacity="0.92" stroke="#b49ec0" stroke-width="1.1"/><circle cx="259.6" cy="219.9" r="3.55" fill="#d2b8e0" fill-opacity="0.92" stroke="#b49ec0" stroke-width="1.1"/><circle cx="268.2" cy="222.3" r="3.55" fill="#9a52b0" fill-opacity="0.92" stroke="#844697" stroke-width="1.1"/><circle cx="298.7" cy="218.3" r="3.55" fill="#a83a5e" fill-opacity="0.92" stroke="#903150" stroke-width="1.1"/><circle cx="305.5" cy="218.1" r="3.55" fill="#5a8a3c" fill-opacity="0.92" stroke="#4d7633" stroke-width="1.1"/><circle cx="313.6" cy="216.8" r="3.55" fill="#b0b6e2" fill-opacity="0.92" stroke="#979cc2" stroke-width="1.1"/><circle cx="314.5" cy="215.9" r="3.55" fill="#9a52b0" fill-opacity="0.92" stroke="#844697" stroke-width="1.1"/><circle cx="320.9" cy="221.4" r="3.55" fill="#96d8cc" fill-opacity="0.92" stroke="#81b9af" stroke-width="1.1"/><circle cx="316.4" cy="220.5" r="3.55" fill="#64c4e6" fill-opacity="0.92" stroke="#56a8c5" stroke-width="1.1"/><circle cx="340.5" cy="221.0" r="3.55" fill="#d2b8e0" fill-opacity="0.92" stroke="#b49ec0" stroke-width="1.1"/><circle cx="344.0" cy="227.7" r="3.55" fill="#d2b8e0" fill-opacity="0.92" stroke="#b49ec0" stroke-width="1.1"/><circle cx="352.4" cy="227.4" r="3.55" fill="#9a52b0" fill-opacity="0.92" stroke="#844697" stroke-width="1.1"/><circle cx="365.5" cy="221.4" r="3.55" fill="#d2b8e0" fill-opacity="0.92" stroke="#b49ec0" stroke-width="1.1"/><circle cx="383.3" cy="223.2" r="3.55" fill="#8e5e2c" fill-opacity="0.92" stroke="#7a5025" stroke-width="1.1"/><circle cx="378.2" cy="229.5" r="3.55" fill="#d4553a" fill-opacity="0.92" stroke="#b64931" stroke-width="1.1"/><circle cx="380.0" cy="236.3" r="3.55" fill="#d4553a" fill-opacity="0.92" stroke="#b64931" stroke-width="1.1"/><circle cx="398.2" cy="222.3" r="3.55" fill="#9a52b0" fill-opacity="0.92" stroke="#844697" stroke-width="1.1"/><circle cx="397.3" cy="218.6" r="3.55" fill="#e89a40" fill-opacity="0.92" stroke="#c78437" stroke-width="1.1"/><circle cx="280.9" cy="229.9" r="3.55" fill="#9a52b0" fill-opacity="0.92" stroke="#844697" stroke-width="1.1"/><circle cx="271.3" cy="231.4" r="3.55" fill="#4f9a88" fill-opacity="0.92" stroke="#438474" stroke-width="1.1"/><circle cx="248.2" cy="235.9" r="3.55" fill="#4f9a88" fill-opacity="0.92" stroke="#438474" stroke-width="1.1"/><circle cx="255.5" cy="234.1" r="3.55" fill="#b0b6e2" fill-opacity="0.92" stroke="#979cc2" stroke-width="1.1"/><circle cx="305.5" cy="234.1" r="3.55" fill="#dcecb0" fill-opacity="0.92" stroke="#bdca97" stroke-width="1.1"/><circle cx="314.2" cy="234.1" r="3.55" fill="#b0b6e2" fill-opacity="0.92" stroke="#979cc2" stroke-width="1.1"/><circle cx="340.0" cy="235.0" r="3.55" fill="#a8d89a" fill-opacity="0.92" stroke="#90b984" stroke-width="1.1"/><circle cx="346.7" cy="237.4" r="3.55" fill="#8e5e2c" fill-opacity="0.92" stroke="#7a5025" stroke-width="1.1"/><circle cx="353.1" cy="239.5" r="3.55" fill="#9a52b0" fill-opacity="0.92" stroke="#844697" stroke-width="1.1"/><circle cx="360.0" cy="233.2" r="3.55" fill="#9a52b0" fill-opacity="0.92" stroke="#844697" stroke-width="1.1"/><circle cx="395.5" cy="234.1" r="3.55" fill="#d2b8e0" fill-opacity="0.92" stroke="#b49ec0" stroke-width="1.1"/><circle cx="337.3" cy="242.6" r="3.55" fill="#52b27a" fill-opacity="0.92" stroke="#469968" stroke-width="1.1"/><circle cx="359.1" cy="245.9" r="3.55" fill="#9a52b0" fill-opacity="0.92" stroke="#844697" stroke-width="1.1"/><circle cx="370.9" cy="245.9" r="3.55" fill="#9a52b0" fill-opacity="0.92" stroke="#844697" stroke-width="1.1"/><circle cx="378.2" cy="244.6" r="3.55" fill="#b4d84a" fill-opacity="0.92" stroke="#9ab93f" stroke-width="1.1"/><circle cx="263.6" cy="241.4" r="3.55" fill="#96d8cc" fill-opacity="0.92" stroke="#81b9af" stroke-width="1.1"/><circle cx="270.0" cy="243.2" r="3.55" fill="#52b27a" fill-opacity="0.92" stroke="#469968" stroke-width="1.1"/><circle cx="253.6" cy="244.1" r="3.55" fill="#dcecb0" fill-opacity="0.92" stroke="#bdca97" stroke-width="1.1"/><circle cx="290.5" cy="239.2" r="3.55" fill="#a8d89a" fill-opacity="0.92" stroke="#90b984" stroke-width="1.1"/><circle cx="293.1" cy="244.1" r="3.55" fill="#d4553a" fill-opacity="0.92" stroke="#b64931" stroke-width="1.1"/><circle cx="300.0" cy="240.5" r="3.55" fill="#a83a5e" fill-opacity="0.92" stroke="#903150" stroke-width="1.1"/><circle cx="280.9" cy="249.2" r="3.55" fill="#9a52b0" fill-opacity="0.92" stroke="#844697" stroke-width="1.1"/><circle cx="312.7" cy="249.0" r="3.55" fill="#64c4e6" fill-opacity="0.92" stroke="#56a8c5" stroke-width="1.1"/><circle cx="249.1" cy="256.3" r="3.55" fill="#64c4e6" fill-opacity="0.92" stroke="#56a8c5" stroke-width="1.1"/><circle cx="259.1" cy="258.6" r="3.55" fill="#e6a0cc" fill-opacity="0.92" stroke="#c589af" stroke-width="1.1"/><circle cx="284.5" cy="257.7" r="3.55" fill="#9a52b0" fill-opacity="0.92" stroke="#844697" stroke-width="1.1"/><circle cx="306.9" cy="256.8" r="3.55" fill="#d2b8e0" fill-opacity="0.92" stroke="#b49ec0" stroke-width="1.1"/><circle cx="314.5" cy="256.8" r="3.55" fill="#d2b8e0" fill-opacity="0.92" stroke="#b49ec0" stroke-width="1.1"/><circle cx="345.5" cy="252.3" r="3.55" fill="#64c4e6" fill-opacity="0.92" stroke="#56a8c5" stroke-width="1.1"/><circle cx="347.3" cy="256.3" r="3.55" fill="#8e5e2c" fill-opacity="0.92" stroke="#7a5025" stroke-width="1.1"/><circle cx="325.8" cy="262.3" r="3.55" fill="#5b93d4" fill-opacity="0.92" stroke="#4e7eb6" stroke-width="1.1"/><circle cx="393.6" cy="250.5" r="3.55" fill="#9a52b0" fill-opacity="0.92" stroke="#844697" stroke-width="1.1"/><circle cx="390.9" cy="264.1" r="3.55" fill="#8c8c8c" fill-opacity="0.92" stroke="#787878" stroke-width="1.1"/><circle cx="422.3" cy="171.4" r="3.55" fill="#c07cc8" fill-opacity="0.92" stroke="#a56aac" stroke-width="1.1"/><circle cx="431.8" cy="169.3" r="3.55" fill="#d2b8e0" fill-opacity="0.92" stroke="#b49ec0" stroke-width="1.1"/><circle cx="425.9" cy="176.8" r="3.55" fill="#a83a5e" fill-opacity="0.92" stroke="#903150" stroke-width="1.1"/><circle cx="436.2" cy="182.4" r="3.55" fill="#d4553a" fill-opacity="0.92" stroke="#b64931" stroke-width="1.1"/><circle cx="480.1" cy="168.5" r="3.55" fill="#6c4a9e" fill-opacity="0.92" stroke="#5c3f87" stroke-width="1.1"/><circle cx="406.0" cy="185.8" r="3.55" fill="#4a5fae" fill-opacity="0.92" stroke="#3f5195" stroke-width="1.1"/><circle cx="418.5" cy="206.6" r="3.55" fill="#c07cc8" fill-opacity="0.92" stroke="#a56aac" stroke-width="1.1"/><circle cx="439.4" cy="213.6" r="3.55" fill="#a83a5e" fill-opacity="0.92" stroke="#903150" stroke-width="1.1"/><circle cx="453.7" cy="214.2" r="3.55" fill="#c07cc8" fill-opacity="0.92" stroke="#a56aac" stroke-width="1.1"/><circle cx="430.8" cy="225.5" r="3.55" fill="#a8d89a" fill-opacity="0.92" stroke="#90b984" stroke-width="1.1"/><circle cx="440.4" cy="227.5" r="3.55" fill="#8c8c8c" fill-opacity="0.92" stroke="#787878" stroke-width="1.1"/><circle cx="457.3" cy="224.1" r="3.55" fill="#b4d84a" fill-opacity="0.92" stroke="#9ab93f" stroke-width="1.1"/><circle cx="469.6" cy="224.1" r="3.55" fill="#8e5e2c" fill-opacity="0.92" stroke="#7a5025" stroke-width="1.1"/><circle cx="443.2" cy="235.5" r="3.55" fill="#52b27a" fill-opacity="0.92" stroke="#469968" stroke-width="1.1"/><circle cx="463.0" cy="236.5" r="3.55" fill="#9a52b0" fill-opacity="0.92" stroke="#844697" stroke-width="1.1"/><circle cx="402.4" cy="242.4" r="3.55" fill="#64c4e6" fill-opacity="0.92" stroke="#56a8c5" stroke-width="1.1"/><circle cx="406.0" cy="247.4" r="3.55" fill="#9a52b0" fill-opacity="0.92" stroke="#844697" stroke-width="1.1"/><circle cx="434.2" cy="248.0" r="3.55" fill="#a8d89a" fill-opacity="0.92" stroke="#90b984" stroke-width="1.1"/><circle cx="499.0" cy="247.0" r="3.55" fill="#9a52b0" fill-opacity="0.92" stroke="#844697" stroke-width="1.1"/><circle cx="408.9" cy="254.0" r="3.55" fill="#dcecb0" fill-opacity="0.92" stroke="#bdca97" stroke-width="1.1"/><circle cx="428.8" cy="257.0" r="3.55" fill="#a8d89a" fill-opacity="0.92" stroke="#90b984" stroke-width="1.1"/><circle cx="565.7" cy="216.6" r="3.55" fill="#5a8a3c" fill-opacity="0.92" stroke="#4d7633" stroke-width="1.1"/><circle cx="208.2" cy="271.4" r="3.55" fill="#e6a0cc" fill-opacity="0.92" stroke="#c589af" stroke-width="1.1"/><circle cx="221.8" cy="269.9" r="3.55" fill="#5b93d4" fill-opacity="0.92" stroke="#4e7eb6" stroke-width="1.1"/><circle cx="224.5" cy="280.5" r="3.55" fill="#8e5e2c" fill-opacity="0.92" stroke="#7a5025" stroke-width="1.1"/><circle cx="238.2" cy="280.8" r="3.55" fill="#5a8a3c" fill-opacity="0.92" stroke="#4d7633" stroke-width="1.1"/><circle cx="202.2" cy="285.0" r="3.55" fill="#96d8cc" fill-opacity="0.92" stroke="#81b9af" stroke-width="1.1"/><circle cx="199.6" cy="303.5" r="3.55" fill="#6c4a9e" fill-opacity="0.92" stroke="#5c3f87" stroke-width="1.1"/><circle cx="301.5" cy="274.1" r="3.55" fill="#4f9a88" fill-opacity="0.92" stroke="#438474" stroke-width="1.1"/><circle cx="346.9" cy="279.5" r="3.55" fill="#e89a40" fill-opacity="0.92" stroke="#c78437" stroke-width="1.1"/><circle cx="284.2" cy="292.6" r="3.55" fill="#c07cc8" fill-opacity="0.92" stroke="#a56aac" stroke-width="1.1"/><circle cx="328.5" cy="290.5" r="3.55" fill="#52b27a" fill-opacity="0.92" stroke="#469968" stroke-width="1.1"/><circle cx="365.8" cy="301.7" r="3.55" fill="#9a52b0" fill-opacity="0.92" stroke="#844697" stroke-width="1.1"/><circle cx="343.1" cy="347.2" r="3.55" fill="#8e5e2c" fill-opacity="0.92" stroke="#7a5025" stroke-width="1.1"/><circle cx="480.1" cy="267.9" r="3.55" fill="#bfe5cf" fill-opacity="0.92" stroke="#a4c4b2" stroke-width="1.1"/><circle cx="483.5" cy="273.9" r="3.55" fill="#bfe5cf" fill-opacity="0.92" stroke="#a4c4b2" stroke-width="1.1"/><circle cx="476.0" cy="275.5" r="3.55" fill="#e6a0cc" fill-opacity="0.92" stroke="#c589af" stroke-width="1.1"/><circle cx="451.3" cy="303.3" r="3.55" fill="#6c4a9e" fill-opacity="0.92" stroke="#5c3f87" stroke-width="1.1"/><circle cx="234.9" cy="213.5" r="3.55" fill="#8a7090" fill-opacity="0.92" stroke="#76607b" stroke-width="1.1"/><circle cx="239.6" cy="210.6" r="3.55" fill="#8c8c8c" fill-opacity="0.92" stroke="#787878" stroke-width="1.1"/><circle cx="230.1" cy="211.7" r="3.55" fill="#707060" fill-opacity="0.92" stroke="#606052" stroke-width="1.1"/><circle cx="187.6" cy="468.6" r="3.55" fill="#9a52b0" fill-opacity="0.92" stroke="#844697" stroke-width="1.1"/><circle cx="198.2" cy="475.0" r="3.55" fill="#dcecb0" fill-opacity="0.92" stroke="#bdca97" stroke-width="1.1"/><circle cx="183.6" cy="485.0" r="3.55" fill="#9a52b0" fill-opacity="0.92" stroke="#844697" stroke-width="1.1"/><circle cx="219.1" cy="494.5" r="3.55" fill="#9a52b0" fill-opacity="0.92" stroke="#844697" stroke-width="1.1"/><circle cx="216.4" cy="493.2" r="3.55" fill="#b4d84a" fill-opacity="0.92" stroke="#9ab93f" stroke-width="1.1"/><circle cx="219.1" cy="500.5" r="3.55" fill="#5b93d4" fill-opacity="0.92" stroke="#4e7eb6" stroke-width="1.1"/><circle cx="226.4" cy="506.5" r="3.55" fill="#d4553a" fill-opacity="0.92" stroke="#b64931" stroke-width="1.1"/><circle cx="222.7" cy="505.9" r="3.55" fill="#b0b6e2" fill-opacity="0.92" stroke="#979cc2" stroke-width="1.1"/><circle cx="158.5" cy="504.5" r="3.55" fill="#d2b8e0" fill-opacity="0.92" stroke="#b49ec0" stroke-width="1.1"/><circle cx="158.2" cy="514.5" r="3.55" fill="#d2b8e0" fill-opacity="0.92" stroke="#b49ec0" stroke-width="1.1"/><circle cx="200.4" cy="508.6" r="3.55" fill="#96d8cc" fill-opacity="0.92" stroke="#81b9af" stroke-width="1.1"/><circle cx="178.2" cy="519.0" r="3.55" fill="#a8d89a" fill-opacity="0.92" stroke="#90b984" stroke-width="1.1"/><circle cx="215.5" cy="514.1" r="3.55" fill="#9a52b0" fill-opacity="0.92" stroke="#844697" stroke-width="1.1"/><circle cx="223.6" cy="515.9" r="3.55" fill="#64c4e6" fill-opacity="0.92" stroke="#56a8c5" stroke-width="1.1"/><circle cx="234.9" cy="518.6" r="3.55" fill="#4a5fae" fill-opacity="0.92" stroke="#3f5195" stroke-width="1.1"/><circle cx="207.8" cy="521.0" r="3.55" fill="#52b27a" fill-opacity="0.92" stroke="#469968" stroke-width="1.1"/><circle cx="226.4" cy="523.2" r="3.55" fill="#8e5e2c" fill-opacity="0.92" stroke="#7a5025" stroke-width="1.1"/><circle cx="198.2" cy="529.0" r="3.55" fill="#96d8cc" fill-opacity="0.92" stroke="#81b9af" stroke-width="1.1"/><circle cx="219.1" cy="527.7" r="3.55" fill="#64c4e6" fill-opacity="0.92" stroke="#56a8c5" stroke-width="1.1"/><circle cx="221.8" cy="528.3" r="3.55" fill="#64c4e6" fill-opacity="0.92" stroke="#56a8c5" stroke-width="1.1"/><circle cx="216.4" cy="534.1" r="3.55" fill="#9a52b0" fill-opacity="0.92" stroke="#844697" stroke-width="1.1"/><circle cx="227.3" cy="533.7" r="3.55" fill="#8e5e2c" fill-opacity="0.92" stroke="#7a5025" stroke-width="1.1"/><circle cx="223.6" cy="539.5" r="3.55" fill="#8e5e2c" fill-opacity="0.92" stroke="#7a5025" stroke-width="1.1"/><circle cx="217.3" cy="541.4" r="3.55" fill="#9a52b0" fill-opacity="0.92" stroke="#844697" stroke-width="1.1"/><circle cx="211.3" cy="544.1" r="3.55" fill="#b4d84a" fill-opacity="0.92" stroke="#9ab93f" stroke-width="1.1"/><circle cx="220.0" cy="545.9" r="3.55" fill="#5b93d4" fill-opacity="0.92" stroke="#4e7eb6" stroke-width="1.1"/><circle cx="110.0" cy="538.1" r="3.55" fill="#c07cc8" fill-opacity="0.92" stroke="#a56aac" stroke-width="1.1"/><circle cx="135.1" cy="537.4" r="3.55" fill="#8c8c8c" fill-opacity="0.92" stroke="#787878" stroke-width="1.1"/><circle cx="140.9" cy="535.0" r="3.55" fill="#b0b6e2" fill-opacity="0.92" stroke="#979cc2" stroke-width="1.1"/><circle cx="134.5" cy="547.2" r="3.55" fill="#bfe5cf" fill-opacity="0.92" stroke="#a4c4b2" stroke-width="1.1"/><circle cx="197.3" cy="553.5" r="3.55" fill="#b0b6e2" fill-opacity="0.92" stroke="#979cc2" stroke-width="1.1"/><circle cx="205.1" cy="555.0" r="3.55" fill="#52b27a" fill-opacity="0.92" stroke="#469968" stroke-width="1.1"/><circle cx="177.6" cy="558.6" r="3.55" fill="#a8d89a" fill-opacity="0.92" stroke="#90b984" stroke-width="1.1"/><circle cx="190.0" cy="559.2" r="3.55" fill="#9a52b0" fill-opacity="0.92" stroke="#844697" stroke-width="1.1"/><circle cx="221.5" cy="554.1" r="3.55" fill="#9a52b0" fill-opacity="0.92" stroke="#844697" stroke-width="1.1"/><circle cx="232.4" cy="550.8" r="3.55" fill="#8c8c8c" fill-opacity="0.92" stroke="#787878" stroke-width="1.1"/><circle cx="239.1" cy="553.2" r="3.55" fill="#dcecb0" fill-opacity="0.92" stroke="#bdca97" stroke-width="1.1"/><circle cx="212.7" cy="559.5" r="3.55" fill="#4f9a88" fill-opacity="0.92" stroke="#438474" stroke-width="1.1"/><circle cx="211.3" cy="561.4" r="3.55" fill="#52b27a" fill-opacity="0.92" stroke="#469968" stroke-width="1.1"/><circle cx="218.2" cy="561.4" r="3.55" fill="#5b93d4" fill-opacity="0.92" stroke="#4e7eb6" stroke-width="1.1"/><circle cx="227.3" cy="561.4" r="3.55" fill="#8e5e2c" fill-opacity="0.92" stroke="#7a5025" stroke-width="1.1"/><circle cx="235.5" cy="559.2" r="3.55" fill="#64c4e6" fill-opacity="0.92" stroke="#56a8c5" stroke-width="1.1"/><circle cx="267.6" cy="479.0" r="3.55" fill="#bfe5cf" fill-opacity="0.92" stroke="#a4c4b2" stroke-width="1.1"/><circle cx="280.9" cy="489.0" r="3.55" fill="#c07cc8" fill-opacity="0.92" stroke="#a56aac" stroke-width="1.1"/><circle cx="330.9" cy="495.5" r="3.55" fill="#8c8c8c" fill-opacity="0.92" stroke="#787878" stroke-width="1.1"/><circle cx="387.8" cy="500.5" r="3.55" fill="#4f9a88" fill-opacity="0.92" stroke="#438474" stroke-width="1.1"/><circle cx="390.5" cy="506.5" r="3.55" fill="#d2b8e0" fill-opacity="0.92" stroke="#b49ec0" stroke-width="1.1"/><circle cx="296.7" cy="508.1" r="3.55" fill="#a83a5e" fill-opacity="0.92" stroke="#903150" stroke-width="1.1"/><circle cx="305.1" cy="506.3" r="3.55" fill="#5a8a3c" fill-opacity="0.92" stroke="#4d7633" stroke-width="1.1"/><circle cx="290.9" cy="519.0" r="3.55" fill="#a8d89a" fill-opacity="0.92" stroke="#90b984" stroke-width="1.1"/><circle cx="299.5" cy="515.9" r="3.55" fill="#bfe5cf" fill-opacity="0.92" stroke="#a4c4b2" stroke-width="1.1"/><circle cx="327.3" cy="518.3" r="3.55" fill="#4f9a88" fill-opacity="0.92" stroke="#438474" stroke-width="1.1"/><circle cx="334.5" cy="524.1" r="3.55" fill="#d2b8e0" fill-opacity="0.92" stroke="#b49ec0" stroke-width="1.1"/><circle cx="363.3" cy="516.5" r="3.55" fill="#64c4e6" fill-opacity="0.92" stroke="#56a8c5" stroke-width="1.1"/><circle cx="361.8" cy="524.1" r="3.55" fill="#d2b8e0" fill-opacity="0.92" stroke="#b49ec0" stroke-width="1.1"/><circle cx="392.2" cy="525.9" r="3.55" fill="#b0b6e2" fill-opacity="0.92" stroke="#979cc2" stroke-width="1.1"/><circle cx="268.5" cy="525.5" r="3.55" fill="#5a8a3c" fill-opacity="0.92" stroke="#4d7633" stroke-width="1.1"/><circle cx="280.4" cy="528.6" r="3.55" fill="#9a6090" fill-opacity="0.92" stroke="#84527b" stroke-width="1.1"/><circle cx="249.5" cy="537.4" r="3.55" fill="#8c8c8c" fill-opacity="0.92" stroke="#787878" stroke-width="1.1"/><circle cx="273.1" cy="538.1" r="3.55" fill="#52b27a" fill-opacity="0.92" stroke="#469968" stroke-width="1.1"/><circle cx="267.6" cy="544.3" r="3.55" fill="#b0b6e2" fill-opacity="0.92" stroke="#979cc2" stroke-width="1.1"/><circle cx="282.4" cy="544.6" r="3.55" fill="#c07cc8" fill-opacity="0.92" stroke="#a56aac" stroke-width="1.1"/><circle cx="276.7" cy="549.0" r="3.55" fill="#e89a40" fill-opacity="0.92" stroke="#c78437" stroke-width="1.1"/><circle cx="331.8" cy="531.9" r="3.55" fill="#a8d89a" fill-opacity="0.92" stroke="#90b984" stroke-width="1.1"/><circle cx="331.5" cy="537.4" r="3.55" fill="#8c8c8c" fill-opacity="0.92" stroke="#787878" stroke-width="1.1"/><circle cx="328.7" cy="539.5" r="3.55" fill="#a8d89a" fill-opacity="0.92" stroke="#90b984" stroke-width="1.1"/><circle cx="312.7" cy="538.3" r="3.55" fill="#64c4e6" fill-opacity="0.92" stroke="#56a8c5" stroke-width="1.1"/><circle cx="310.0" cy="544.6" r="3.55" fill="#bfe5cf" fill-opacity="0.92" stroke="#a4c4b2" stroke-width="1.1"/><circle cx="320.0" cy="547.7" r="3.55" fill="#5a8a3c" fill-opacity="0.92" stroke="#4d7633" stroke-width="1.1"/><circle cx="328.5" cy="551.0" r="3.55" fill="#8c8c8c" fill-opacity="0.92" stroke="#787878" stroke-width="1.1"/><circle cx="334.5" cy="552.3" r="3.55" fill="#a8d89a" fill-opacity="0.92" stroke="#90b984" stroke-width="1.1"/><circle cx="339.1" cy="546.3" r="3.55" fill="#52b27a" fill-opacity="0.92" stroke="#469968" stroke-width="1.1"/><circle cx="340.5" cy="543.2" r="3.55" fill="#d2b8e0" fill-opacity="0.92" stroke="#b49ec0" stroke-width="1.1"/><circle cx="359.6" cy="534.1" r="3.55" fill="#d2b8e0" fill-opacity="0.92" stroke="#b49ec0" stroke-width="1.1"/><circle cx="363.6" cy="544.1" r="3.55" fill="#c4aab0" fill-opacity="0.92" stroke="#a89297" stroke-width="1.1"/><circle cx="356.4" cy="549.0" r="3.55" fill="#64c4e6" fill-opacity="0.92" stroke="#56a8c5" stroke-width="1.1"/><circle cx="304.5" cy="555.9" r="3.55" fill="#8e5e2c" fill-opacity="0.92" stroke="#7a5025" stroke-width="1.1"/><circle cx="260.5" cy="553.7" r="3.55" fill="#d2b8e0" fill-opacity="0.92" stroke="#b49ec0" stroke-width="1.1"/><circle cx="286.7" cy="559.2" r="3.55" fill="#bfe5cf" fill-opacity="0.92" stroke="#a4c4b2" stroke-width="1.1"/><circle cx="256.7" cy="562.3" r="3.55" fill="#b0b6e2" fill-opacity="0.92" stroke="#979cc2" stroke-width="1.1"/><circle cx="271.8" cy="562.3" r="3.55" fill="#bfe5cf" fill-opacity="0.92" stroke="#a4c4b2" stroke-width="1.1"/><circle cx="339.1" cy="559.5" r="3.55" fill="#4f9a88" fill-opacity="0.92" stroke="#438474" stroke-width="1.1"/><circle cx="348.7" cy="559.5" r="3.55" fill="#dcecb0" fill-opacity="0.92" stroke="#bdca97" stroke-width="1.1"/><circle cx="381.5" cy="560.5" r="3.55" fill="#b4d84a" fill-opacity="0.92" stroke="#9ab93f" stroke-width="1.1"/><circle cx="376.7" cy="565.0" r="3.55" fill="#9a52b0" fill-opacity="0.92" stroke="#844697" stroke-width="1.1"/><circle cx="396.4" cy="562.3" r="3.55" fill="#d2b8e0" fill-opacity="0.92" stroke="#b49ec0" stroke-width="1.1"/><circle cx="321.8" cy="562.8" r="3.55" fill="#d2b8e0" fill-opacity="0.92" stroke="#b49ec0" stroke-width="1.1"/><circle cx="336.4" cy="564.1" r="3.55" fill="#8c8c8c" fill-opacity="0.92" stroke="#787878" stroke-width="1.1"/><circle cx="344.5" cy="562.8" r="3.55" fill="#d2b8e0" fill-opacity="0.92" stroke="#b49ec0" stroke-width="1.1"/><circle cx="468.6" cy="501.1" r="3.55" fill="#8e5e2c" fill-opacity="0.92" stroke="#7a5025" stroke-width="1.1"/><circle cx="455.7" cy="521.2" r="3.55" fill="#52b27a" fill-opacity="0.92" stroke="#469968" stroke-width="1.1"/><circle cx="470.0" cy="550.4" r="3.55" fill="#8e5e2c" fill-opacity="0.92" stroke="#7a5025" stroke-width="1.1"/><circle cx="427.8" cy="553.8" r="3.55" fill="#d2b8e0" fill-opacity="0.92" stroke="#b49ec0" stroke-width="1.1"/><circle cx="437.8" cy="553.8" r="3.55" fill="#d2b8e0" fill-opacity="0.92" stroke="#b49ec0" stroke-width="1.1"/><circle cx="410.9" cy="562.3" r="3.55" fill="#b0b6e2" fill-opacity="0.92" stroke="#979cc2" stroke-width="1.1"/><circle cx="434.4" cy="560.9" r="3.55" fill="#5b93d4" fill-opacity="0.92" stroke="#4e7eb6" stroke-width="1.1"/><circle cx="424.9" cy="564.9" r="3.55" fill="#c07cc8" fill-opacity="0.92" stroke="#a56aac" stroke-width="1.1"/><circle cx="183.6" cy="567.3" r="3.55" fill="#9a52b0" fill-opacity="0.92" stroke="#844697" stroke-width="1.1"/><circle cx="214.5" cy="570.0" r="3.55" fill="#b4d84a" fill-opacity="0.92" stroke="#9ab93f" stroke-width="1.1"/><circle cx="220.0" cy="568.2" r="3.55" fill="#d4553a" fill-opacity="0.92" stroke="#b64931" stroke-width="1.1"/><circle cx="227.3" cy="571.8" r="3.55" fill="#d4553a" fill-opacity="0.92" stroke="#b64931" stroke-width="1.1"/><circle cx="218.2" cy="576.4" r="3.55" fill="#5b93d4" fill-opacity="0.92" stroke="#4e7eb6" stroke-width="1.1"/><circle cx="223.6" cy="577.3" r="3.55" fill="#5b93d4" fill-opacity="0.92" stroke="#4e7eb6" stroke-width="1.1"/><circle cx="235.5" cy="570.9" r="3.55" fill="#9a52b0" fill-opacity="0.92" stroke="#844697" stroke-width="1.1"/><circle cx="231.8" cy="565.5" r="3.55" fill="#8c8c8c" fill-opacity="0.92" stroke="#787878" stroke-width="1.1"/><circle cx="142.7" cy="588.2" r="3.55" fill="#52b27a" fill-opacity="0.92" stroke="#469968" stroke-width="1.1"/><circle cx="107.3" cy="602.7" r="3.55" fill="#64c4e6" fill-opacity="0.92" stroke="#56a8c5" stroke-width="1.1"/><circle cx="153.6" cy="603.6" r="3.55" fill="#d2b8e0" fill-opacity="0.92" stroke="#b49ec0" stroke-width="1.1"/><circle cx="211.8" cy="597.3" r="3.55" fill="#52b27a" fill-opacity="0.92" stroke="#469968" stroke-width="1.1"/><circle cx="220.0" cy="597.3" r="3.55" fill="#b4d84a" fill-opacity="0.92" stroke="#9ab93f" stroke-width="1.1"/><circle cx="224.5" cy="595.5" r="3.55" fill="#8e5e2c" fill-opacity="0.92" stroke="#7a5025" stroke-width="1.1"/><circle cx="199.1" cy="602.7" r="3.55" fill="#dcecb0" fill-opacity="0.92" stroke="#bdca97" stroke-width="1.1"/><circle cx="205.1" cy="603.6" r="3.55" fill="#d2b8e0" fill-opacity="0.92" stroke="#b49ec0" stroke-width="1.1"/><circle cx="188.2" cy="608.7" r="3.55" fill="#bfe5cf" fill-opacity="0.92" stroke="#a4c4b2" stroke-width="1.1"/><circle cx="230.9" cy="602.7" r="3.55" fill="#64c4e6" fill-opacity="0.92" stroke="#56a8c5" stroke-width="1.1"/><circle cx="226.9" cy="608.2" r="3.55" fill="#d4553a" fill-opacity="0.92" stroke="#b64931" stroke-width="1.1"/><circle cx="238.2" cy="606.4" r="3.55" fill="#9a52b0" fill-opacity="0.92" stroke="#844697" stroke-width="1.1"/><circle cx="224.5" cy="615.5" r="3.55" fill="#8e5e2c" fill-opacity="0.92" stroke="#7a5025" stroke-width="1.1"/><circle cx="220.9" cy="619.1" r="3.55" fill="#9a52b0" fill-opacity="0.92" stroke="#844697" stroke-width="1.1"/><circle cx="205.5" cy="620.9" r="3.55" fill="#96d8cc" fill-opacity="0.92" stroke="#81b9af" stroke-width="1.1"/><circle cx="223.6" cy="624.5" r="3.55" fill="#64c4e6" fill-opacity="0.92" stroke="#56a8c5" stroke-width="1.1"/><circle cx="230.0" cy="623.3" r="3.55" fill="#d2b8e0" fill-opacity="0.92" stroke="#b49ec0" stroke-width="1.1"/><circle cx="216.4" cy="625.5" r="3.55" fill="#9a52b0" fill-opacity="0.92" stroke="#844697" stroke-width="1.1"/><circle cx="227.3" cy="628.2" r="3.55" fill="#8e5e2c" fill-opacity="0.92" stroke="#7a5025" stroke-width="1.1"/><circle cx="199.6" cy="631.3" r="3.55" fill="#dcecb0" fill-opacity="0.92" stroke="#bdca97" stroke-width="1.1"/><circle cx="207.3" cy="630.9" r="3.55" fill="#e89a40" fill-opacity="0.92" stroke="#c78437" stroke-width="1.1"/><circle cx="213.6" cy="630.0" r="3.55" fill="#b4d84a" fill-opacity="0.92" stroke="#9ab93f" stroke-width="1.1"/><circle cx="219.1" cy="632.7" r="3.55" fill="#9a52b0" fill-opacity="0.92" stroke="#844697" stroke-width="1.1"/><circle cx="208.2" cy="637.3" r="3.55" fill="#4f9a88" fill-opacity="0.92" stroke="#438474" stroke-width="1.1"/><circle cx="210.0" cy="643.6" r="3.55" fill="#4f9a88" fill-opacity="0.92" stroke="#438474" stroke-width="1.1"/><circle cx="238.2" cy="617.3" r="3.55" fill="#dcecb0" fill-opacity="0.92" stroke="#bdca97" stroke-width="1.1"/><circle cx="236.4" cy="634.5" r="3.55" fill="#5a8a3c" fill-opacity="0.92" stroke="#4d7633" stroke-width="1.1"/><circle cx="225.5" cy="643.6" r="3.55" fill="#8e5e2c" fill-opacity="0.92" stroke="#7a5025" stroke-width="1.1"/><circle cx="231.8" cy="642.7" r="3.55" fill="#d2b8e0" fill-opacity="0.92" stroke="#b49ec0" stroke-width="1.1"/><circle cx="236.4" cy="645.5" r="3.55" fill="#a090a0" fill-opacity="0.92" stroke="#897b89" stroke-width="1.1"/><circle cx="221.8" cy="649.1" r="3.55" fill="#8e5e2c" fill-opacity="0.92" stroke="#7a5025" stroke-width="1.1"/><circle cx="216.4" cy="652.4" r="3.55" fill="#9a52b0" fill-opacity="0.92" stroke="#844697" stroke-width="1.1"/><circle cx="217.8" cy="658.2" r="3.55" fill="#a8d89a" fill-opacity="0.92" stroke="#90b984" stroke-width="1.1"/><circle cx="237.3" cy="660.0" r="3.55" fill="#5a8a3c" fill-opacity="0.92" stroke="#4d7633" stroke-width="1.1"/><circle cx="205.1" cy="663.6" r="3.55" fill="#b0b6e2" fill-opacity="0.92" stroke="#979cc2" stroke-width="1.1"/><circle cx="211.3" cy="664.5" r="3.55" fill="#b4d84a" fill-opacity="0.92" stroke="#9ab93f" stroke-width="1.1"/><circle cx="216.7" cy="668.7" r="3.55" fill="#5b93d4" fill-opacity="0.92" stroke="#4e7eb6" stroke-width="1.1"/><circle cx="221.8" cy="668.7" r="3.55" fill="#5b93d4" fill-opacity="0.92" stroke="#4e7eb6" stroke-width="1.1"/><circle cx="232.4" cy="672.4" r="3.55" fill="#d2b8e0" fill-opacity="0.92" stroke="#b49ec0" stroke-width="1.1"/><circle cx="114.0" cy="629.5" r="3.55" fill="#c07cc8" fill-opacity="0.92" stroke="#a56aac" stroke-width="1.1"/><circle cx="154.9" cy="622.7" r="3.55" fill="#d2b8e0" fill-opacity="0.92" stroke="#b49ec0" stroke-width="1.1"/><circle cx="156.4" cy="629.1" r="3.55" fill="#a83a5e" fill-opacity="0.92" stroke="#903150" stroke-width="1.1"/><circle cx="157.3" cy="633.6" r="3.55" fill="#d2b8e0" fill-opacity="0.92" stroke="#b49ec0" stroke-width="1.1"/><circle cx="159.1" cy="643.1" r="3.55" fill="#d2b8e0" fill-opacity="0.92" stroke="#b49ec0" stroke-width="1.1"/><circle cx="170.5" cy="624.5" r="3.55" fill="#a8d89a" fill-opacity="0.92" stroke="#90b984" stroke-width="1.1"/><circle cx="170.9" cy="644.5" r="3.55" fill="#a8d89a" fill-opacity="0.92" stroke="#90b984" stroke-width="1.1"/><circle cx="185.5" cy="633.3" r="3.55" fill="#d2b8e0" fill-opacity="0.92" stroke="#b49ec0" stroke-width="1.1"/><circle cx="189.6" cy="625.1" r="3.55" fill="#9a52b0" fill-opacity="0.92" stroke="#844697" stroke-width="1.1"/><circle cx="253.6" cy="571.8" r="3.55" fill="#d2b8e0" fill-opacity="0.92" stroke="#b49ec0" stroke-width="1.1"/><circle cx="258.2" cy="571.3" r="3.55" fill="#a05a3a" fill-opacity="0.92" stroke="#894d31" stroke-width="1.1"/><circle cx="257.3" cy="575.5" r="3.55" fill="#5a8a3c" fill-opacity="0.92" stroke="#4d7633" stroke-width="1.1"/><circle cx="266.4" cy="576.4" r="3.55" fill="#e89a40" fill-opacity="0.92" stroke="#c78437" stroke-width="1.1"/><circle cx="252.7" cy="581.5" r="3.55" fill="#64c4e6" fill-opacity="0.92" stroke="#56a8c5" stroke-width="1.1"/><circle cx="260.9" cy="581.8" r="3.55" fill="#dcecb0" fill-opacity="0.92" stroke="#bdca97" stroke-width="1.1"/><circle cx="273.1" cy="583.6" r="3.55" fill="#4f9a88" fill-opacity="0.92" stroke="#438474" stroke-width="1.1"/><circle cx="287.8" cy="573.1" r="3.55" fill="#c07cc8" fill-opacity="0.92" stroke="#a56aac" stroke-width="1.1"/><circle cx="299.1" cy="576.4" r="3.55" fill="#a83a5e" fill-opacity="0.92" stroke="#903150" stroke-width="1.1"/><circle cx="306.4" cy="583.1" r="3.55" fill="#8e5e2c" fill-opacity="0.92" stroke="#7a5025" stroke-width="1.1"/><circle cx="309.1" cy="583.6" r="3.55" fill="#d2b8e0" fill-opacity="0.92" stroke="#b49ec0" stroke-width="1.1"/><circle cx="317.3" cy="580.9" r="3.55" fill="#bfe5cf" fill-opacity="0.92" stroke="#a4c4b2" stroke-width="1.1"/><circle cx="321.8" cy="565.5" r="3.55" fill="#d2b8e0" fill-opacity="0.92" stroke="#b49ec0" stroke-width="1.1"/><circle cx="322.7" cy="567.3" r="3.55" fill="#908070" fill-opacity="0.92" stroke="#7b6e60" stroke-width="1.1"/><circle cx="336.4" cy="565.1" r="3.55" fill="#8c8c8c" fill-opacity="0.92" stroke="#787878" stroke-width="1.1"/><circle cx="329.1" cy="571.8" r="3.55" fill="#a8d89a" fill-opacity="0.92" stroke="#90b984" stroke-width="1.1"/><circle cx="334.5" cy="572.4" r="3.55" fill="#b0b6e2" fill-opacity="0.92" stroke="#979cc2" stroke-width="1.1"/><circle cx="326.9" cy="577.3" r="3.55" fill="#5b93d4" fill-opacity="0.92" stroke="#4e7eb6" stroke-width="1.1"/><circle cx="328.7" cy="585.1" r="3.55" fill="#a8d89a" fill-opacity="0.92" stroke="#90b984" stroke-width="1.1"/><circle cx="348.7" cy="570.0" r="3.55" fill="#64c4e6" fill-opacity="0.92" stroke="#56a8c5" stroke-width="1.1"/><circle cx="353.1" cy="573.6" r="3.55" fill="#9a52b0" fill-opacity="0.92" stroke="#844697" stroke-width="1.1"/><circle cx="377.3" cy="566.9" r="3.55" fill="#9a52b0" fill-opacity="0.92" stroke="#844697" stroke-width="1.1"/><circle cx="378.5" cy="578.2" r="3.55" fill="#d4553a" fill-opacity="0.92" stroke="#b64931" stroke-width="1.1"/><circle cx="363.6" cy="583.6" r="3.55" fill="#9a52b0" fill-opacity="0.92" stroke="#844697" stroke-width="1.1"/><circle cx="367.3" cy="584.5" r="3.55" fill="#9a52b0" fill-opacity="0.92" stroke="#844697" stroke-width="1.1"/><circle cx="360.9" cy="586.4" r="3.55" fill="#9a52b0" fill-opacity="0.92" stroke="#844697" stroke-width="1.1"/><circle cx="394.5" cy="583.6" r="3.55" fill="#d2b8e0" fill-opacity="0.92" stroke="#b49ec0" stroke-width="1.1"/><circle cx="396.4" cy="580.0" r="3.55" fill="#96d8cc" fill-opacity="0.92" stroke="#81b9af" stroke-width="1.1"/><circle cx="397.3" cy="571.8" r="3.55" fill="#52b27a" fill-opacity="0.92" stroke="#469968" stroke-width="1.1"/><circle cx="386.4" cy="590.0" r="3.55" fill="#4f9a88" fill-opacity="0.92" stroke="#438474" stroke-width="1.1"/><circle cx="323.6" cy="592.7" r="3.55" fill="#9a52b0" fill-opacity="0.92" stroke="#844697" stroke-width="1.1"/><circle cx="350.5" cy="592.7" r="3.55" fill="#9a52b0" fill-opacity="0.92" stroke="#844697" stroke-width="1.1"/><circle cx="362.2" cy="591.8" r="3.55" fill="#9a52b0" fill-opacity="0.92" stroke="#844697" stroke-width="1.1"/><circle cx="373.6" cy="594.5" r="3.55" fill="#b4d84a" fill-opacity="0.92" stroke="#9ab93f" stroke-width="1.1"/><circle cx="380.0" cy="598.2" r="3.55" fill="#d4553a" fill-opacity="0.92" stroke="#b64931" stroke-width="1.1"/><circle cx="272.7" cy="598.2" r="3.55" fill="#e89a40" fill-opacity="0.92" stroke="#c78437" stroke-width="1.1"/><circle cx="280.9" cy="601.5" r="3.55" fill="#c07cc8" fill-opacity="0.92" stroke="#a56aac" stroke-width="1.1"/><circle cx="286.4" cy="601.5" r="3.55" fill="#c07cc8" fill-opacity="0.92" stroke="#a56aac" stroke-width="1.1"/><circle cx="297.8" cy="600.0" r="3.55" fill="#a83a5e" fill-opacity="0.92" stroke="#903150" stroke-width="1.1"/><circle cx="263.3" cy="602.7" r="3.55" fill="#64c4e6" fill-opacity="0.92" stroke="#56a8c5" stroke-width="1.1"/><circle cx="310.9" cy="605.5" r="3.55" fill="#9a52b0" fill-opacity="0.92" stroke="#844697" stroke-width="1.1"/><circle cx="320.0" cy="606.4" r="3.55" fill="#bfe5cf" fill-opacity="0.92" stroke="#a4c4b2" stroke-width="1.1"/><circle cx="240.9" cy="606.4" r="3.55" fill="#9a52b0" fill-opacity="0.92" stroke="#844697" stroke-width="1.1"/><circle cx="314.5" cy="592.7" r="3.55" fill="#d2b8e0" fill-opacity="0.92" stroke="#b49ec0" stroke-width="1.1"/><circle cx="269.1" cy="614.2" r="3.55" fill="#52b27a" fill-opacity="0.92" stroke="#469968" stroke-width="1.1"/><circle cx="297.3" cy="615.1" r="3.55" fill="#c07cc8" fill-opacity="0.92" stroke="#a56aac" stroke-width="1.1"/><circle cx="307.6" cy="613.1" r="3.55" fill="#64c4e6" fill-opacity="0.92" stroke="#56a8c5" stroke-width="1.1"/><circle cx="311.8" cy="619.6" r="3.55" fill="#9a52b0" fill-opacity="0.92" stroke="#844697" stroke-width="1.1"/><circle cx="247.3" cy="620.4" r="3.55" fill="#8c8c8c" fill-opacity="0.92" stroke="#787878" stroke-width="1.1"/><circle cx="259.1" cy="619.1" r="3.55" fill="#bfe5cf" fill-opacity="0.92" stroke="#a4c4b2" stroke-width="1.1"/><circle cx="273.6" cy="620.0" r="3.55" fill="#8c8c8c" fill-opacity="0.92" stroke="#787878" stroke-width="1.1"/><circle cx="277.3" cy="620.0" r="3.55" fill="#8c8c8c" fill-opacity="0.92" stroke="#787878" stroke-width="1.1"/><circle cx="283.6" cy="622.4" r="3.55" fill="#c07cc8" fill-opacity="0.92" stroke="#a56aac" stroke-width="1.1"/><circle cx="290.9" cy="623.6" r="3.55" fill="#d2b8e0" fill-opacity="0.92" stroke="#b49ec0" stroke-width="1.1"/><circle cx="254.5" cy="623.6" r="3.55" fill="#d2b8e0" fill-opacity="0.92" stroke="#b49ec0" stroke-width="1.1"/><circle cx="268.2" cy="624.5" r="3.55" fill="#64c4e6" fill-opacity="0.92" stroke="#56a8c5" stroke-width="1.1"/><circle cx="322.7" cy="622.7" r="3.55" fill="#5b93d4" fill-opacity="0.92" stroke="#4e7eb6" stroke-width="1.1"/><circle cx="321.8" cy="620.0" r="3.55" fill="#64c4e6" fill-opacity="0.92" stroke="#56a8c5" stroke-width="1.1"/><circle cx="333.6" cy="620.0" r="3.55" fill="#8c8c8c" fill-opacity="0.92" stroke="#787878" stroke-width="1.1"/><circle cx="339.6" cy="619.1" r="3.55" fill="#52b27a" fill-opacity="0.92" stroke="#469968" stroke-width="1.1"/><circle cx="343.6" cy="614.5" r="3.55" fill="#52b27a" fill-opacity="0.92" stroke="#469968" stroke-width="1.1"/><circle cx="348.2" cy="620.4" r="3.55" fill="#8c8c8c" fill-opacity="0.92" stroke="#787878" stroke-width="1.1"/><circle cx="340.9" cy="627.6" r="3.55" fill="#9a8a40" fill-opacity="0.92" stroke="#847637" stroke-width="1.1"/><circle cx="362.7" cy="612.7" r="3.55" fill="#d2b8e0" fill-opacity="0.92" stroke="#b49ec0" stroke-width="1.1"/><circle cx="360.0" cy="618.2" r="3.55" fill="#9a52b0" fill-opacity="0.92" stroke="#844697" stroke-width="1.1"/><circle cx="366.4" cy="617.3" r="3.55" fill="#9a52b0" fill-opacity="0.92" stroke="#844697" stroke-width="1.1"/><circle cx="372.7" cy="616.0" r="3.55" fill="#b4d84a" fill-opacity="0.92" stroke="#9ab93f" stroke-width="1.1"/><circle cx="361.8" cy="625.5" r="3.55" fill="#9a52b0" fill-opacity="0.92" stroke="#844697" stroke-width="1.1"/><circle cx="380.9" cy="621.5" r="3.55" fill="#8e5e2c" fill-opacity="0.92" stroke="#7a5025" stroke-width="1.1"/><circle cx="386.9" cy="621.8" r="3.55" fill="#8e5e2c" fill-opacity="0.92" stroke="#7a5025" stroke-width="1.1"/><circle cx="381.5" cy="627.3" r="3.55" fill="#bfe5cf" fill-opacity="0.92" stroke="#a4c4b2" stroke-width="1.1"/><circle cx="399.1" cy="618.5" r="3.55" fill="#e89a40" fill-opacity="0.92" stroke="#c78437" stroke-width="1.1"/><circle cx="250.0" cy="633.1" r="3.55" fill="#d2b8e0" fill-opacity="0.92" stroke="#b49ec0" stroke-width="1.1"/><circle cx="285.5" cy="631.3" r="3.55" fill="#a8d89a" fill-opacity="0.92" stroke="#90b984" stroke-width="1.1"/><circle cx="290.0" cy="636.4" r="3.55" fill="#d4553a" fill-opacity="0.92" stroke="#b64931" stroke-width="1.1"/><circle cx="306.4" cy="638.5" r="3.55" fill="#dcecb0" fill-opacity="0.92" stroke="#bdca97" stroke-width="1.1"/><circle cx="314.2" cy="634.9" r="3.55" fill="#64c4e6" fill-opacity="0.92" stroke="#56a8c5" stroke-width="1.1"/><circle cx="322.7" cy="638.2" r="3.55" fill="#5b93d4" fill-opacity="0.92" stroke="#4e7eb6" stroke-width="1.1"/><circle cx="330.5" cy="634.2" r="3.55" fill="#8c8c8c" fill-opacity="0.92" stroke="#787878" stroke-width="1.1"/><circle cx="345.5" cy="634.5" r="3.55" fill="#64c4e6" fill-opacity="0.92" stroke="#56a8c5" stroke-width="1.1"/><circle cx="345.1" cy="639.1" r="3.55" fill="#8e5e2c" fill-opacity="0.92" stroke="#7a5025" stroke-width="1.1"/><circle cx="339.1" cy="643.6" r="3.55" fill="#d2b8e0" fill-opacity="0.92" stroke="#b49ec0" stroke-width="1.1"/><circle cx="272.7" cy="639.1" r="3.55" fill="#9a52b0" fill-opacity="0.92" stroke="#844697" stroke-width="1.1"/><circle cx="280.0" cy="642.7" r="3.55" fill="#d2b8e0" fill-opacity="0.92" stroke="#b49ec0" stroke-width="1.1"/><circle cx="285.8" cy="643.3" r="3.55" fill="#c07cc8" fill-opacity="0.92" stroke="#a56aac" stroke-width="1.1"/><circle cx="355.8" cy="639.1" r="3.55" fill="#9a52b0" fill-opacity="0.92" stroke="#844697" stroke-width="1.1"/><circle cx="366.4" cy="641.8" r="3.55" fill="#9a52b0" fill-opacity="0.92" stroke="#844697" stroke-width="1.1"/><circle cx="365.5" cy="632.7" r="3.55" fill="#d2b8e0" fill-opacity="0.92" stroke="#b49ec0" stroke-width="1.1"/><circle cx="358.2" cy="644.5" r="3.55" fill="#d2b8e0" fill-opacity="0.92" stroke="#b49ec0" stroke-width="1.1"/><circle cx="393.1" cy="641.3" r="3.55" fill="#96d8cc" fill-opacity="0.92" stroke="#81b9af" stroke-width="1.1"/><circle cx="380.9" cy="643.6" r="3.55" fill="#52b27a" fill-opacity="0.92" stroke="#469968" stroke-width="1.1"/><circle cx="256.4" cy="645.8" r="3.55" fill="#64c4e6" fill-opacity="0.92" stroke="#56a8c5" stroke-width="1.1"/><circle cx="304.0" cy="645.1" r="3.55" fill="#5a8a3c" fill-opacity="0.92" stroke="#4d7633" stroke-width="1.1"/><circle cx="313.6" cy="645.8" r="3.55" fill="#64c4e6" fill-opacity="0.92" stroke="#56a8c5" stroke-width="1.1"/><circle cx="328.5" cy="648.2" r="3.55" fill="#52b27a" fill-opacity="0.92" stroke="#469968" stroke-width="1.1"/><circle cx="274.5" cy="648.2" r="3.55" fill="#52b27a" fill-opacity="0.92" stroke="#469968" stroke-width="1.1"/><circle cx="270.0" cy="651.8" r="3.55" fill="#8a80a0" fill-opacity="0.92" stroke="#766e89" stroke-width="1.1"/><circle cx="269.5" cy="650.9" r="3.55" fill="#5a8a3c" fill-opacity="0.92" stroke="#4d7633" stroke-width="1.1"/><circle cx="284.5" cy="650.5" r="3.55" fill="#9a52b0" fill-opacity="0.92" stroke="#844697" stroke-width="1.1"/><circle cx="292.7" cy="652.4" r="3.55" fill="#a83a5e" fill-opacity="0.92" stroke="#903150" stroke-width="1.1"/><circle cx="302.7" cy="652.7" r="3.55" fill="#dcecb0" fill-opacity="0.92" stroke="#bdca97" stroke-width="1.1"/><circle cx="317.3" cy="654.2" r="3.55" fill="#b0b6e2" fill-opacity="0.92" stroke="#979cc2" stroke-width="1.1"/><circle cx="321.8" cy="653.1" r="3.55" fill="#b0b6e2" fill-opacity="0.92" stroke="#979cc2" stroke-width="1.1"/><circle cx="361.8" cy="650.0" r="3.55" fill="#9a52b0" fill-opacity="0.92" stroke="#844697" stroke-width="1.1"/><circle cx="367.3" cy="650.0" r="3.55" fill="#9a52b0" fill-opacity="0.92" stroke="#844697" stroke-width="1.1"/><circle cx="369.6" cy="649.6" r="3.55" fill="#9a52b0" fill-opacity="0.92" stroke="#844697" stroke-width="1.1"/><circle cx="355.5" cy="651.8" r="3.55" fill="#9a52b0" fill-opacity="0.92" stroke="#844697" stroke-width="1.1"/><circle cx="357.3" cy="656.0" r="3.55" fill="#b4d84a" fill-opacity="0.92" stroke="#9ab93f" stroke-width="1.1"/><circle cx="339.1" cy="656.4" r="3.55" fill="#52b27a" fill-opacity="0.92" stroke="#469968" stroke-width="1.1"/><circle cx="343.6" cy="656.4" r="3.55" fill="#64c4e6" fill-opacity="0.92" stroke="#56a8c5" stroke-width="1.1"/><circle cx="367.3" cy="659.1" r="3.55" fill="#9a52b0" fill-opacity="0.92" stroke="#844697" stroke-width="1.1"/><circle cx="396.7" cy="655.1" r="3.55" fill="#d4553a" fill-opacity="0.92" stroke="#b64931" stroke-width="1.1"/><circle cx="390.5" cy="659.6" r="3.55" fill="#dcecb0" fill-opacity="0.92" stroke="#bdca97" stroke-width="1.1"/><circle cx="395.5" cy="665.5" r="3.55" fill="#9a52b0" fill-opacity="0.92" stroke="#844697" stroke-width="1.1"/><circle cx="242.7" cy="662.7" r="3.55" fill="#4a5fae" fill-opacity="0.92" stroke="#3f5195" stroke-width="1.1"/><circle cx="240.9" cy="660.9" r="3.55" fill="#5a8a3c" fill-opacity="0.92" stroke="#4d7633" stroke-width="1.1"/><circle cx="311.8" cy="663.6" r="3.55" fill="#b0b6e2" fill-opacity="0.92" stroke="#979cc2" stroke-width="1.1"/><circle cx="317.3" cy="663.6" r="3.55" fill="#b0b6e2" fill-opacity="0.92" stroke="#979cc2" stroke-width="1.1"/><circle cx="276.0" cy="667.6" r="3.55" fill="#64c4e6" fill-opacity="0.92" stroke="#56a8c5" stroke-width="1.1"/><circle cx="282.7" cy="664.5" r="3.55" fill="#c07cc8" fill-opacity="0.92" stroke="#a56aac" stroke-width="1.1"/><circle cx="338.2" cy="673.1" r="3.55" fill="#52b27a" fill-opacity="0.92" stroke="#469968" stroke-width="1.1"/><circle cx="245.1" cy="677.3" r="3.55" fill="#64c4e6" fill-opacity="0.92" stroke="#56a8c5" stroke-width="1.1"/><circle cx="300.9" cy="677.8" r="3.55" fill="#4f9a88" fill-opacity="0.92" stroke="#438474" stroke-width="1.1"/><circle cx="393.6" cy="675.5" r="3.55" fill="#8c8c8c" fill-opacity="0.92" stroke="#787878" stroke-width="1.1"/><circle cx="426.2" cy="573.9" r="3.55" fill="#d2b8e0" fill-opacity="0.92" stroke="#b49ec0" stroke-width="1.1"/><circle cx="427.2" cy="578.3" r="3.55" fill="#8e5e2c" fill-opacity="0.92" stroke="#7a5025" stroke-width="1.1"/><circle cx="406.4" cy="579.3" r="3.55" fill="#4a5fae" fill-opacity="0.92" stroke="#3f5195" stroke-width="1.1"/><circle cx="434.8" cy="583.5" r="3.55" fill="#d2b8e0" fill-opacity="0.92" stroke="#b49ec0" stroke-width="1.1"/><circle cx="416.9" cy="586.4" r="3.55" fill="#c07cc8" fill-opacity="0.92" stroke="#a56aac" stroke-width="1.1"/><circle cx="421.5" cy="586.8" r="3.55" fill="#c07cc8" fill-opacity="0.92" stroke="#a56aac" stroke-width="1.1"/><circle cx="422.9" cy="593.8" r="3.55" fill="#b05088" fill-opacity="0.92" stroke="#974474" stroke-width="1.1"/><circle cx="432.4" cy="591.8" r="3.55" fill="#5b93d4" fill-opacity="0.92" stroke="#4e7eb6" stroke-width="1.1"/><circle cx="477.6" cy="583.5" r="3.55" fill="#e89a40" fill-opacity="0.92" stroke="#c78437" stroke-width="1.1"/><circle cx="509.0" cy="578.9" r="3.55" fill="#8c8c8c" fill-opacity="0.92" stroke="#787878" stroke-width="1.1"/><circle cx="498.8" cy="588.8" r="3.55" fill="#dcecb0" fill-opacity="0.92" stroke="#bdca97" stroke-width="1.1"/><circle cx="534.2" cy="570.5" r="3.55" fill="#64c4e6" fill-opacity="0.92" stroke="#56a8c5" stroke-width="1.1"/><circle cx="511.4" cy="606.3" r="3.55" fill="#9a52b0" fill-opacity="0.92" stroke="#844697" stroke-width="1.1"/><circle cx="429.8" cy="603.4" r="3.55" fill="#8e5e2c" fill-opacity="0.92" stroke="#7a5025" stroke-width="1.1"/><circle cx="406.0" cy="624.6" r="3.55" fill="#4a5fae" fill-opacity="0.92" stroke="#3f5195" stroke-width="1.1"/><circle cx="438.8" cy="620.7" r="3.55" fill="#9a52b0" fill-opacity="0.92" stroke="#844697" stroke-width="1.1"/><circle cx="450.1" cy="630.0" r="3.55" fill="#b4d84a" fill-opacity="0.92" stroke="#9ab93f" stroke-width="1.1"/><circle cx="458.3" cy="632.6" r="3.55" fill="#9a52b0" fill-opacity="0.92" stroke="#844697" stroke-width="1.1"/><circle cx="444.7" cy="639.5" r="3.55" fill="#52b27a" fill-opacity="0.92" stroke="#469968" stroke-width="1.1"/><circle cx="471.6" cy="638.2" r="3.55" fill="#8e5e2c" fill-opacity="0.92" stroke="#7a5025" stroke-width="1.1"/><circle cx="488.1" cy="635.6" r="3.55" fill="#64c4e6" fill-opacity="0.92" stroke="#56a8c5" stroke-width="1.1"/><circle cx="494.5" cy="631.2" r="3.55" fill="#7a6890" fill-opacity="0.92" stroke="#68597b" stroke-width="1.1"/><circle cx="569.0" cy="633.6" r="3.55" fill="#5a8a3c" fill-opacity="0.92" stroke="#4d7633" stroke-width="1.1"/><circle cx="433.4" cy="644.5" r="3.55" fill="#a8d89a" fill-opacity="0.92" stroke="#90b984" stroke-width="1.1"/><circle cx="432.2" cy="651.1" r="3.55" fill="#a8d89a" fill-opacity="0.92" stroke="#90b984" stroke-width="1.1"/><circle cx="404.4" cy="639.1" r="3.55" fill="#9a52b0" fill-opacity="0.92" stroke="#844697" stroke-width="1.1"/><circle cx="405.0" cy="658.8" r="3.55" fill="#9a52b0" fill-opacity="0.92" stroke="#844697" stroke-width="1.1"/><circle cx="407.0" cy="665.4" r="3.55" fill="#9a52b0" fill-opacity="0.92" stroke="#844697" stroke-width="1.1"/><circle cx="401.0" cy="666.4" r="3.55" fill="#64c4e6" fill-opacity="0.92" stroke="#56a8c5" stroke-width="1.1"/><circle cx="414.3" cy="666.8" r="3.55" fill="#dcecb0" fill-opacity="0.92" stroke="#bdca97" stroke-width="1.1"/><circle cx="402.0" cy="673.0" r="3.55" fill="#d2b8e0" fill-opacity="0.92" stroke="#b49ec0" stroke-width="1.1"/><circle cx="427.4" cy="670.8" r="3.55" fill="#a8d89a" fill-opacity="0.92" stroke="#90b984" stroke-width="1.1"/><circle cx="461.2" cy="658.0" r="3.55" fill="#9a6090" fill-opacity="0.92" stroke="#84527b" stroke-width="1.1"/><circle cx="492.5" cy="658.8" r="3.55" fill="#9a52b0" fill-opacity="0.92" stroke="#844697" stroke-width="1.1"/><circle cx="478.6" cy="676.3" r="3.55" fill="#bfe5cf" fill-opacity="0.92" stroke="#a4c4b2" stroke-width="1.1"/><circle cx="483.5" cy="676.3" r="3.55" fill="#bfe5cf" fill-opacity="0.92" stroke="#a4c4b2" stroke-width="1.1"/><circle cx="226.9" cy="682.4" r="3.55" fill="#a07890" fill-opacity="0.92" stroke="#89677b" stroke-width="1.1"/><circle cx="244.5" cy="678.2" r="3.55" fill="#64c4e6" fill-opacity="0.92" stroke="#56a8c5" stroke-width="1.1"/><circle cx="280.4" cy="685.5" r="3.55" fill="#c07cc8" fill-opacity="0.92" stroke="#a56aac" stroke-width="1.1"/><circle cx="300.9" cy="679.1" r="3.55" fill="#4f9a88" fill-opacity="0.92" stroke="#438474" stroke-width="1.1"/><circle cx="309.1" cy="682.7" r="3.55" fill="#d2b8e0" fill-opacity="0.92" stroke="#b49ec0" stroke-width="1.1"/><circle cx="316.4" cy="682.7" r="3.55" fill="#d2b8e0" fill-opacity="0.92" stroke="#b49ec0" stroke-width="1.1"/><circle cx="360.9" cy="682.7" r="3.55" fill="#9a52b0" fill-opacity="0.92" stroke="#844697" stroke-width="1.1"/><circle cx="380.4" cy="691.3" r="3.55" fill="#d4553a" fill-opacity="0.92" stroke="#b64931" stroke-width="1.1"/><circle cx="314.0" cy="702.4" r="3.55" fill="#96d8cc" fill-opacity="0.92" stroke="#81b9af" stroke-width="1.1"/><circle cx="342.2" cy="720.9" r="3.55" fill="#8e5e2c" fill-opacity="0.92" stroke="#7a5025" stroke-width="1.1"/><circle cx="351.8" cy="721.8" r="3.55" fill="#e89a40" fill-opacity="0.92" stroke="#c78437" stroke-width="1.1"/><circle cx="742.7" cy="153.8" r="4.4" fill="#9a6090" fill-opacity="0.62"/><circle cx="732.5" cy="149.8" r="4.4" fill="#4a5fae" fill-opacity="0.62"/><circle cx="717.0" cy="200.6" r="4.4" fill="#4a5fae" fill-opacity="0.62"/><circle cx="716.1" cy="149.8" r="4.4" fill="#8e5e2c" fill-opacity="0.62"/><circle cx="736.7" cy="151.7" r="4.4" fill="#6c4a9e" fill-opacity="0.62"/><circle cx="716.9" cy="197.5" r="4.4" fill="#d8405a" fill-opacity="0.62"/><circle cx="740.0" cy="111.4" r="4.4" fill="#4f9a88" fill-opacity="0.62"/><circle cx="742.7" cy="221.9" r="4.4" fill="#a83a5e" fill-opacity="0.62"/><circle cx="739.7" cy="167.6" r="4.4" fill="#8e5e2c" fill-opacity="0.62"/><circle cx="730.6" cy="241.4" r="4.4" fill="#d8405a" fill-opacity="0.62"/><circle cx="738.0" cy="200.9" r="4.4" fill="#a08090" fill-opacity="0.62"/><circle cx="741.3" cy="129.6" r="4.4" fill="#b4d84a" fill-opacity="0.62"/><circle cx="745.1" cy="216.7" r="4.4" fill="#5a8a3c" fill-opacity="0.62"/><circle cx="746.9" cy="141.6" r="4.4" fill="#b4d84a" fill-opacity="0.62"/><circle cx="732.8" cy="154.1" r="4.4" fill="#4a5fae" fill-opacity="0.62"/><circle cx="735.2" cy="122.1" r="4.4" fill="#e79ac4" fill-opacity="0.62"/><circle cx="719.8" cy="106.6" r="4.4" fill="#8a8a7a" fill-opacity="0.62"/><circle cx="733.1" cy="168.5" r="4.4" fill="#9a52b0" fill-opacity="0.62"/><circle cx="745.7" cy="128.5" r="4.4" fill="#c07cc8" fill-opacity="0.62"/><circle cx="722.0" cy="186.3" r="4.4" fill="#b4d84a" fill-opacity="0.62"/><circle cx="723.0" cy="114.6" r="4.4" fill="#d8405a" fill-opacity="0.62"/><circle cx="749.3" cy="138.1" r="4.4" fill="#b0b6e2" fill-opacity="0.62"/><circle cx="739.1" cy="156.8" r="4.4" fill="#c07cc8" fill-opacity="0.62"/><circle cx="743.4" cy="196.3" r="4.4" fill="#b4d84a" fill-opacity="0.62"/><circle cx="735.6" cy="221.4" r="4.4" fill="#4f9a88" fill-opacity="0.62"/><circle cx="728.8" cy="219.6" r="4.4" fill="#d8405a" fill-opacity="0.62"/><circle cx="733.0" cy="137.7" r="4.4" fill="#e79ac4" fill-opacity="0.62"/><circle cx="734.9" cy="114.1" r="4.4" fill="#c07cc8" fill-opacity="0.62"/><circle cx="744.2" cy="142.2" r="4.4" fill="#b0a070" fill-opacity="0.62"/><circle cx="746.1" cy="141.5" r="4.4" fill="#d8405a" fill-opacity="0.62"/><circle cx="724.9" cy="236.0" r="4.4" fill="#9a7aa8" fill-opacity="0.62"/><circle cx="716.5" cy="92.4" r="4.4" fill="#9a6090" fill-opacity="0.62"/><circle cx="737.9" cy="119.1" r="4.4" fill="#e79ac4" fill-opacity="0.62"/><circle cx="724.9" cy="121.9" r="4.4" fill="#8a8a7a" fill-opacity="0.62"/><circle cx="726.3" cy="227.8" r="4.4" fill="#e79ac4" fill-opacity="0.62"/><circle cx="726.9" cy="163.2" r="4.4" fill="#e79ac4" fill-opacity="0.62"/><circle cx="719.8" cy="122.8" r="4.4" fill="#b4d84a" fill-opacity="0.62"/><circle cx="731.1" cy="243.3" r="4.4" fill="#9a52b0" fill-opacity="0.62"/><circle cx="717.2" cy="132.7" r="4.4" fill="#8a8a7a" fill-opacity="0.62"/><circle cx="730.9" cy="137.8" r="4.4" fill="#8a7a50" fill-opacity="0.62"/><circle cx="740.3" cy="226.9" r="4.4" fill="#8e5e2c" fill-opacity="0.62"/><circle cx="729.8" cy="144.5" r="4.4" fill="#b0b6e2" fill-opacity="0.62"/><circle cx="730.9" cy="228.3" r="4.4" fill="#a08090" fill-opacity="0.62"/><circle cx="717.7" cy="124.0" r="4.4" fill="#9a7aa8" fill-opacity="0.62"/><circle cx="748.9" cy="211.2" r="4.4" fill="#8a8a7a" fill-opacity="0.62"/><circle cx="716.3" cy="125.9" r="4.4" fill="#9a52b0" fill-opacity="0.62"/><circle cx="747.5" cy="183.5" r="4.4" fill="#8e5e2c" fill-opacity="0.62"/><circle cx="750.1" cy="154.8" r="4.4" fill="#c07cc8" fill-opacity="0.62"/><circle cx="728.1" cy="168.2" r="4.4" fill="#5a8a3c" fill-opacity="0.62"/><circle cx="736.7" cy="178.0" r="4.4" fill="#a83a5e" fill-opacity="0.62"/><circle cx="726.4" cy="145.3" r="4.4" fill="#a83a5e" fill-opacity="0.62"/><circle cx="730.1" cy="105.5" r="4.4" fill="#a08090" fill-opacity="0.62"/><circle cx="727.5" cy="96.4" r="4.4" fill="#b0b6e2" fill-opacity="0.62"/><circle cx="723.5" cy="212.6" r="4.4" fill="#6c4a9e" fill-opacity="0.62"/><circle cx="728.0" cy="241.7" r="4.4" fill="#d8405a" fill-opacity="0.62"/><circle cx="724.2" cy="160.3" r="4.4" fill="#9a52b0" fill-opacity="0.62"/><circle cx="747.9" cy="95.7" r="4.4" fill="#5a8a3c" fill-opacity="0.62"/><circle cx="733.7" cy="129.6" r="4.4" fill="#9a6090" fill-opacity="0.62"/><circle cx="726.2" cy="130.0" r="4.4" fill="#c07cc8" fill-opacity="0.62"/><circle cx="733.1" cy="231.0" r="4.4" fill="#b0b6e2" fill-opacity="0.62"/><circle cx="717.4" cy="163.0" r="4.4" fill="#9a7aa8" fill-opacity="0.62"/><circle cx="721.2" cy="160.6" r="4.4" fill="#8c8c8c" fill-opacity="0.62"/><circle cx="743.4" cy="142.9" r="4.4" fill="#4a5fae" fill-opacity="0.62"/><circle cx="735.8" cy="104.1" r="4.4" fill="#9a6090" fill-opacity="0.62"/><circle cx="734.7" cy="127.9" r="4.4" fill="#6c4a9e" fill-opacity="0.62"/><circle cx="743.5" cy="127.0" r="4.4" fill="#a08090" fill-opacity="0.62"/><circle cx="719.2" cy="106.7" r="4.4" fill="#6c4a9e" fill-opacity="0.62"/><circle cx="722.6" cy="234.7" r="4.4" fill="#b0b6e2" fill-opacity="0.62"/><circle cx="721.9" cy="119.4" r="4.4" fill="#8a7a50" fill-opacity="0.62"/><circle cx="731.2" cy="153.7" r="4.4" fill="#4a5fae" fill-opacity="0.62"/><circle cx="744.6" cy="222.6" r="4.4" fill="#d8405a" fill-opacity="0.62"/><circle cx="719.5" cy="136.4" r="4.4" fill="#b0a070" fill-opacity="0.62"/><circle cx="743.5" cy="115.3" r="4.4" fill="#a08090" fill-opacity="0.62"/><circle cx="729.7" cy="211.7" r="4.4" fill="#4a5fae" fill-opacity="0.62"/><circle cx="749.9" cy="112.1" r="4.4" fill="#8e5e2c" fill-opacity="0.62"/><circle cx="737.6" cy="124.1" r="4.4" fill="#d8405a" fill-opacity="0.62"/><circle cx="728.5" cy="219.0" r="4.4" fill="#8a8a7a" fill-opacity="0.62"/><circle cx="724.6" cy="166.8" r="4.4" fill="#9a7aa8" fill-opacity="0.62"/><circle cx="742.4" cy="200.4" r="4.4" fill="#9a7aa8" fill-opacity="0.62"/><circle cx="748.9" cy="227.5" r="4.4" fill="#4a5fae" fill-opacity="0.62"/><circle cx="722.5" cy="198.0" r="4.4" fill="#b0b6e2" fill-opacity="0.62"/><circle cx="727.7" cy="210.8" r="4.4" fill="#d8405a" fill-opacity="0.62"/><circle cx="719.2" cy="192.9" r="4.4" fill="#8a7a50" fill-opacity="0.62"/><circle cx="718.5" cy="97.4" r="4.4" fill="#d8405a" fill-opacity="0.62"/><circle cx="716.8" cy="231.7" r="4.4" fill="#9a52b0" fill-opacity="0.62"/><circle cx="733.3" cy="151.2" r="4.4" fill="#8c8c8c" fill-opacity="0.62"/><circle cx="727.5" cy="150.6" r="4.4" fill="#b4d84a" fill-opacity="0.62"/><circle cx="743.2" cy="204.5" r="4.4" fill="#8c8c8c" fill-opacity="0.62"/><circle cx="719.7" cy="211.7" r="4.4" fill="#b4d84a" fill-opacity="0.62"/><circle cx="720.4" cy="225.5" r="4.4" fill="#5a8a3c" fill-opacity="0.62"/><circle cx="809.5" cy="250.0" r="4.4" fill="#9a7aa8" fill-opacity="0.62"/><circle cx="835.8" cy="131.7" r="4.4" fill="#a08090" fill-opacity="0.62"/><circle cx="808.8" cy="134.4" r="4.4" fill="#8a8a7a" fill-opacity="0.62"/><circle cx="835.6" cy="262.6" r="4.4" fill="#b4d84a" fill-opacity="0.62"/><circle cx="823.1" cy="227.0" r="4.4" fill="#9a6090" fill-opacity="0.62"/><circle cx="820.2" cy="245.6" r="4.4" fill="#e79ac4" fill-opacity="0.62"/><circle cx="838.4" cy="220.1" r="4.4" fill="#8a8a7a" fill-opacity="0.62"/><circle cx="808.3" cy="186.8" r="4.4" fill="#e79ac4" fill-opacity="0.62"/><circle cx="820.1" cy="153.1" r="4.4" fill="#b4d84a" fill-opacity="0.62"/><circle cx="838.8" cy="206.4" r="4.4" fill="#4f9a88" fill-opacity="0.62"/><circle cx="834.2" cy="247.7" r="4.4" fill="#b0b6e2" fill-opacity="0.62"/><circle cx="841.2" cy="182.8" r="4.4" fill="#8a8a7a" fill-opacity="0.62"/><circle cx="833.4" cy="218.8" r="4.4" fill="#b0a070" fill-opacity="0.62"/><circle cx="839.9" cy="189.9" r="4.4" fill="#b4d84a" fill-opacity="0.62"/><circle cx="830.7" cy="171.2" r="4.4" fill="#8e5e2c" fill-opacity="0.62"/><circle cx="827.4" cy="222.3" r="4.4" fill="#d8405a" fill-opacity="0.62"/><circle cx="815.3" cy="223.7" r="4.4" fill="#e79ac4" fill-opacity="0.62"/><circle cx="838.2" cy="243.6" r="4.4" fill="#c07cc8" fill-opacity="0.62"/><circle cx="818.3" cy="178.4" r="4.4" fill="#b4d84a" fill-opacity="0.62"/><circle cx="829.1" cy="190.1" r="4.4" fill="#4f9a88" fill-opacity="0.62"/><circle cx="825.4" cy="134.1" r="4.4" fill="#c07cc8" fill-opacity="0.62"/><circle cx="819.5" cy="240.7" r="4.4" fill="#9a52b0" fill-opacity="0.62"/><circle cx="833.6" cy="206.9" r="4.4" fill="#9a52b0" fill-opacity="0.62"/><circle cx="828.2" cy="198.8" r="4.4" fill="#6c4a9e" fill-opacity="0.62"/><circle cx="816.8" cy="203.8" r="4.4" fill="#5a8a3c" fill-opacity="0.62"/><circle cx="838.9" cy="199.4" r="4.4" fill="#9a52b0" fill-opacity="0.62"/><circle cx="816.2" cy="107.6" r="4.4" fill="#9a52b0" fill-opacity="0.62"/><circle cx="808.4" cy="181.1" r="4.4" fill="#9a52b0" fill-opacity="0.62"/><circle cx="840.3" cy="129.1" r="4.4" fill="#8a8a7a" fill-opacity="0.62"/><circle cx="828.1" cy="184.0" r="4.4" fill="#8a7a50" fill-opacity="0.62"/><circle cx="819.5" cy="123.3" r="4.4" fill="#c07cc8" fill-opacity="0.62"/><circle cx="817.5" cy="238.6" r="4.4" fill="#a83a5e" fill-opacity="0.62"/><circle cx="834.3" cy="109.4" r="4.4" fill="#9a52b0" fill-opacity="0.62"/><circle cx="837.7" cy="239.1" r="4.4" fill="#8c8c8c" fill-opacity="0.62"/><circle cx="830.6" cy="135.2" r="4.4" fill="#e79ac4" fill-opacity="0.62"/><circle cx="835.1" cy="197.4" r="4.4" fill="#8c8c8c" fill-opacity="0.62"/><circle cx="824.5" cy="193.4" r="4.4" fill="#e79ac4" fill-opacity="0.62"/><circle cx="816.6" cy="181.5" r="4.4" fill="#c07cc8" fill-opacity="0.62"/><circle cx="832.0" cy="233.2" r="4.4" fill="#8c8c8c" fill-opacity="0.62"/><circle cx="812.1" cy="210.4" r="4.4" fill="#8a8a7a" fill-opacity="0.62"/><circle cx="825.3" cy="161.0" r="4.4" fill="#9a52b0" fill-opacity="0.62"/><circle cx="823.1" cy="256.5" r="4.4" fill="#9a6090" fill-opacity="0.62"/><circle cx="835.2" cy="135.4" r="4.4" fill="#c07cc8" fill-opacity="0.62"/><circle cx="822.3" cy="210.6" r="4.4" fill="#b4d84a" fill-opacity="0.62"/><circle cx="821.0" cy="204.6" r="4.4" fill="#8a8a7a" fill-opacity="0.62"/><circle cx="815.9" cy="166.6" r="4.4" fill="#6c4a9e" fill-opacity="0.62"/><circle cx="811.2" cy="115.8" r="4.4" fill="#9a52b0" fill-opacity="0.62"/><circle cx="818.3" cy="189.6" r="4.4" fill="#b0a070" fill-opacity="0.62"/><circle cx="834.1" cy="164.1" r="4.4" fill="#5a8a3c" fill-opacity="0.62"/><circle cx="825.4" cy="220.7" r="4.4" fill="#b0b6e2" fill-opacity="0.62"/><circle cx="840.0" cy="246.2" r="4.4" fill="#b0b6e2" fill-opacity="0.62"/><circle cx="835.6" cy="126.9" r="4.4" fill="#e79ac4" fill-opacity="0.62"/><circle cx="811.7" cy="120.2" r="4.4" fill="#e79ac4" fill-opacity="0.62"/><circle cx="820.5" cy="183.0" r="4.4" fill="#9a52b0" fill-opacity="0.62"/><circle cx="811.2" cy="219.5" r="4.4" fill="#5a8a3c" fill-opacity="0.62"/><circle cx="808.1" cy="234.3" r="4.4" fill="#8e5e2c" fill-opacity="0.62"/><circle cx="823.7" cy="113.4" r="4.4" fill="#b0b6e2" fill-opacity="0.62"/><circle cx="808.3" cy="196.3" r="4.4" fill="#a08090" fill-opacity="0.62"/><circle cx="833.9" cy="200.4" r="4.4" fill="#5a8a3c" fill-opacity="0.62"/><circle cx="832.6" cy="144.5" r="4.4" fill="#8c8c8c" fill-opacity="0.62"/><circle cx="811.8" cy="218.5" r="4.4" fill="#6c4a9e" fill-opacity="0.62"/><circle cx="819.2" cy="159.8" r="4.4" fill="#4a5fae" fill-opacity="0.62"/><circle cx="808.4" cy="235.5" r="4.4" fill="#a83a5e" fill-opacity="0.62"/><circle cx="824.9" cy="237.2" r="4.4" fill="#e79ac4" fill-opacity="0.62"/><circle cx="820.6" cy="204.1" r="4.4" fill="#a83a5e" fill-opacity="0.62"/><circle cx="840.9" cy="189.7" r="4.4" fill="#4f9a88" fill-opacity="0.62"/><circle cx="817.9" cy="243.7" r="4.4" fill="#8a7a50" fill-opacity="0.62"/><circle cx="826.7" cy="158.6" r="4.4" fill="#9a7aa8" fill-opacity="0.62"/><circle cx="810.9" cy="242.6" r="4.4" fill="#e79ac4" fill-opacity="0.62"/><circle cx="835.7" cy="155.4" r="4.4" fill="#9a7aa8" fill-opacity="0.62"/><circle cx="831.3" cy="247.9" r="4.4" fill="#b0a070" fill-opacity="0.62"/><circle cx="821.2" cy="120.5" r="4.4" fill="#e79ac4" fill-opacity="0.62"/><circle cx="811.4" cy="154.0" r="4.4" fill="#d8405a" fill-opacity="0.62"/><circle cx="822.3" cy="267.5" r="4.4" fill="#e79ac4" fill-opacity="0.62"/><circle cx="816.5" cy="192.6" r="4.4" fill="#8a8a7a" fill-opacity="0.62"/><circle cx="821.6" cy="165.3" r="4.4" fill="#e79ac4" fill-opacity="0.62"/><circle cx="812.6" cy="228.7" r="4.4" fill="#8e5e2c" fill-opacity="0.62"/><circle cx="820.9" cy="242.2" r="4.4" fill="#8a8a7a" fill-opacity="0.62"/><circle cx="817.1" cy="124.4" r="4.4" fill="#9a6090" fill-opacity="0.62"/><circle cx="832.2" cy="249.4" r="4.4" fill="#a83a5e" fill-opacity="0.62"/><circle cx="832.5" cy="155.5" r="4.4" fill="#9a7aa8" fill-opacity="0.62"/><circle cx="815.4" cy="244.6" r="4.4" fill="#c07cc8" fill-opacity="0.62"/><circle cx="820.9" cy="172.4" r="4.4" fill="#b0a070" fill-opacity="0.62"/><circle cx="825.8" cy="213.8" r="4.4" fill="#8e5e2c" fill-opacity="0.62"/><circle cx="808.1" cy="242.5" r="4.4" fill="#5a8a3c" fill-opacity="0.62"/><circle cx="839.2" cy="230.6" r="4.4" fill="#6c4a9e" fill-opacity="0.62"/><circle cx="835.6" cy="156.1" r="4.4" fill="#9a6090" fill-opacity="0.62"/><circle cx="814.2" cy="229.4" r="4.4" fill="#c07cc8" fill-opacity="0.62"/><circle cx="822.7" cy="159.6" r="4.4" fill="#9a6090" fill-opacity="0.62"/><circle cx="832.4" cy="131.9" r="4.4" fill="#9a7aa8" fill-opacity="0.62"/><circle cx="826.2" cy="178.1" r="4.4" fill="#9a7aa8" fill-opacity="0.62"/><circle cx="831.1" cy="223.6" r="4.4" fill="#e79ac4" fill-opacity="0.62"/><circle cx="823.6" cy="176.3" r="4.4" fill="#9a7aa8" fill-opacity="0.62"/><circle cx="834.1" cy="215.8" r="4.4" fill="#4a5fae" fill-opacity="0.62"/><circle cx="836.7" cy="160.4" r="4.4" fill="#8c8c8c" fill-opacity="0.62"/><circle cx="842.2" cy="110.5" r="4.4" fill="#a08090" fill-opacity="0.62"/><circle cx="823.9" cy="138.8" r="4.4" fill="#9a52b0" fill-opacity="0.62"/><circle cx="820.9" cy="154.9" r="4.4" fill="#8e5e2c" fill-opacity="0.62"/><circle cx="824.9" cy="163.6" r="4.4" fill="#8c8c8c" fill-opacity="0.62"/><circle cx="839.5" cy="154.9" r="4.4" fill="#9a7aa8" fill-opacity="0.62"/><circle cx="819.2" cy="140.7" r="4.4" fill="#a08090" fill-opacity="0.62"/><circle cx="836.9" cy="218.4" r="4.4" fill="#9a7aa8" fill-opacity="0.62"/><circle cx="828.4" cy="134.3" r="4.4" fill="#8c8c8c" fill-opacity="0.62"/><circle cx="818.3" cy="231.8" r="4.4" fill="#8a7a50" fill-opacity="0.62"/><circle cx="825.8" cy="228.0" r="4.4" fill="#9a52b0" fill-opacity="0.62"/><circle cx="728.9" cy="549.9" r="4.4" fill="#c07cc8" fill-opacity="0.62"/><circle cx="737.2" cy="584.9" r="4.4" fill="#a83a5e" fill-opacity="0.62"/><circle cx="750.8" cy="532.9" r="4.4" fill="#a83a5e" fill-opacity="0.62"/><circle cx="729.9" cy="626.6" r="4.4" fill="#8c8c8c" fill-opacity="0.62"/><circle cx="748.4" cy="528.3" r="4.4" fill="#4a5fae" fill-opacity="0.62"/><circle cx="718.2" cy="634.3" r="4.4" fill="#b0b6e2" fill-opacity="0.62"/><circle cx="744.8" cy="516.7" r="4.4" fill="#9a6090" fill-opacity="0.62"/><circle cx="746.8" cy="587.2" r="4.4" fill="#4f9a88" fill-opacity="0.62"/><circle cx="731.6" cy="564.0" r="4.4" fill="#8c8c8c" fill-opacity="0.62"/><circle cx="720.8" cy="598.1" r="4.4" fill="#5a8a3c" fill-opacity="0.62"/><circle cx="743.3" cy="557.0" r="4.4" fill="#a08090" fill-opacity="0.62"/><circle cx="736.1" cy="565.8" r="4.4" fill="#d8405a" fill-opacity="0.62"/><circle cx="747.6" cy="628.8" r="4.4" fill="#9a52b0" fill-opacity="0.62"/><circle cx="739.5" cy="654.4" r="4.4" fill="#8a8a7a" fill-opacity="0.62"/><circle cx="735.0" cy="612.6" r="4.4" fill="#b0b6e2" fill-opacity="0.62"/><circle cx="723.4" cy="637.0" r="4.4" fill="#b0b6e2" fill-opacity="0.62"/><circle cx="732.9" cy="526.8" r="4.4" fill="#b0a070" fill-opacity="0.62"/><circle cx="744.0" cy="655.9" r="4.4" fill="#4f9a88" fill-opacity="0.62"/><circle cx="730.9" cy="593.3" r="4.4" fill="#4f9a88" fill-opacity="0.62"/><circle cx="737.5" cy="594.8" r="4.4" fill="#9a52b0" fill-opacity="0.62"/><circle cx="735.3" cy="552.3" r="4.4" fill="#9a6090" fill-opacity="0.62"/><circle cx="726.8" cy="592.0" r="4.4" fill="#9a7aa8" fill-opacity="0.62"/><circle cx="749.2" cy="549.5" r="4.4" fill="#4f9a88" fill-opacity="0.62"/><circle cx="740.1" cy="534.5" r="4.4" fill="#e79ac4" fill-opacity="0.62"/><circle cx="747.4" cy="572.7" r="4.4" fill="#4a5fae" fill-opacity="0.62"/><circle cx="729.5" cy="567.8" r="4.4" fill="#c07cc8" fill-opacity="0.62"/><circle cx="750.1" cy="598.5" r="4.4" fill="#b4d84a" fill-opacity="0.62"/><circle cx="741.0" cy="554.9" r="4.4" fill="#a08090" fill-opacity="0.62"/><circle cx="726.6" cy="534.2" r="4.4" fill="#e79ac4" fill-opacity="0.62"/><circle cx="736.3" cy="511.2" r="4.4" fill="#9a52b0" fill-opacity="0.62"/><circle cx="720.7" cy="552.4" r="4.4" fill="#b0a070" fill-opacity="0.62"/><circle cx="739.8" cy="621.4" r="4.4" fill="#e79ac4" fill-opacity="0.62"/><circle cx="733.1" cy="609.6" r="4.4" fill="#b0b6e2" fill-opacity="0.62"/><circle cx="749.7" cy="557.2" r="4.4" fill="#9a6090" fill-opacity="0.62"/><circle cx="737.1" cy="610.8" r="4.4" fill="#8a8a7a" fill-opacity="0.62"/><circle cx="728.9" cy="537.2" r="4.4" fill="#c07cc8" fill-opacity="0.62"/><circle cx="719.7" cy="563.3" r="4.4" fill="#9a52b0" fill-opacity="0.62"/><circle cx="720.6" cy="635.1" r="4.4" fill="#b4d84a" fill-opacity="0.62"/><circle cx="724.4" cy="564.2" r="4.4" fill="#8a8a7a" fill-opacity="0.62"/><circle cx="719.4" cy="632.9" r="4.4" fill="#c07cc8" fill-opacity="0.62"/><circle cx="745.2" cy="538.4" r="4.4" fill="#8e5e2c" fill-opacity="0.62"/><circle cx="718.8" cy="652.5" r="4.4" fill="#b0a070" fill-opacity="0.62"/><circle cx="725.5" cy="551.3" r="4.4" fill="#6c4a9e" fill-opacity="0.62"/><circle cx="727.0" cy="519.4" r="4.4" fill="#b0b6e2" fill-opacity="0.62"/><circle cx="744.3" cy="535.3" r="4.4" fill="#b0a070" fill-opacity="0.62"/><circle cx="736.6" cy="554.1" r="4.4" fill="#4f9a88" fill-opacity="0.62"/><circle cx="725.5" cy="563.7" r="4.4" fill="#e79ac4" fill-opacity="0.62"/><circle cx="735.9" cy="610.3" r="4.4" fill="#9a52b0" fill-opacity="0.62"/><circle cx="716.2" cy="601.8" r="4.4" fill="#c07cc8" fill-opacity="0.62"/><circle cx="749.3" cy="659.3" r="4.4" fill="#8a7a50" fill-opacity="0.62"/><circle cx="742.4" cy="511.9" r="4.4" fill="#b4d84a" fill-opacity="0.62"/><circle cx="747.1" cy="626.3" r="4.4" fill="#9a7aa8" fill-opacity="0.62"/><circle cx="720.2" cy="653.2" r="4.4" fill="#8a7a50" fill-opacity="0.62"/><circle cx="740.3" cy="569.7" r="4.4" fill="#5a8a3c" fill-opacity="0.62"/><circle cx="736.2" cy="648.7" r="4.4" fill="#9a52b0" fill-opacity="0.62"/><circle cx="733.6" cy="577.1" r="4.4" fill="#8a7a50" fill-opacity="0.62"/><circle cx="730.5" cy="625.1" r="4.4" fill="#c07cc8" fill-opacity="0.62"/><circle cx="750.0" cy="526.9" r="4.4" fill="#d8405a" fill-opacity="0.62"/><circle cx="728.3" cy="588.3" r="4.4" fill="#5a8a3c" fill-opacity="0.62"/><circle cx="720.2" cy="568.8" r="4.4" fill="#8a7a50" fill-opacity="0.62"/><circle cx="744.2" cy="650.1" r="4.4" fill="#9a52b0" fill-opacity="0.62"/><circle cx="730.0" cy="584.7" r="4.4" fill="#9a6090" fill-opacity="0.62"/><circle cx="734.2" cy="554.0" r="4.4" fill="#9a52b0" fill-opacity="0.62"/><circle cx="716.1" cy="588.2" r="4.4" fill="#9a52b0" fill-opacity="0.62"/><circle cx="717.7" cy="594.9" r="4.4" fill="#a83a5e" fill-opacity="0.62"/><circle cx="719.0" cy="645.8" r="4.4" fill="#b4d84a" fill-opacity="0.62"/><circle cx="718.5" cy="577.7" r="4.4" fill="#4a5fae" fill-opacity="0.62"/><circle cx="728.6" cy="629.0" r="4.4" fill="#5a8a3c" fill-opacity="0.62"/><circle cx="720.5" cy="659.3" r="4.4" fill="#9a52b0" fill-opacity="0.62"/><circle cx="718.8" cy="616.0" r="4.4" fill="#8a8a7a" fill-opacity="0.62"/><circle cx="738.8" cy="511.9" r="4.4" fill="#d8405a" fill-opacity="0.62"/><circle cx="737.8" cy="564.1" r="4.4" fill="#4f9a88" fill-opacity="0.62"/><circle cx="742.6" cy="554.5" r="4.4" fill="#e79ac4" fill-opacity="0.62"/><circle cx="732.1" cy="558.2" r="4.4" fill="#8a7a50" fill-opacity="0.62"/><circle cx="736.6" cy="534.9" r="4.4" fill="#4f9a88" fill-opacity="0.62"/><circle cx="717.0" cy="527.2" r="4.4" fill="#e79ac4" fill-opacity="0.62"/><circle cx="743.7" cy="569.4" r="4.4" fill="#9a6090" fill-opacity="0.62"/><circle cx="748.9" cy="558.0" r="4.4" fill="#b4d84a" fill-opacity="0.62"/><circle cx="741.7" cy="634.1" r="4.4" fill="#b0b6e2" fill-opacity="0.62"/><circle cx="741.1" cy="643.1" r="4.4" fill="#a83a5e" fill-opacity="0.62"/><circle cx="717.6" cy="562.6" r="4.4" fill="#9a7aa8" fill-opacity="0.62"/><circle cx="729.2" cy="633.5" r="4.4" fill="#9a52b0" fill-opacity="0.62"/><circle cx="716.9" cy="566.9" r="4.4" fill="#6c4a9e" fill-opacity="0.62"/><circle cx="749.3" cy="644.7" r="4.4" fill="#b0b6e2" fill-opacity="0.62"/><circle cx="750.9" cy="524.9" r="4.4" fill="#b0b6e2" fill-opacity="0.62"/><circle cx="719.7" cy="587.2" r="4.4" fill="#6c4a9e" fill-opacity="0.62"/><circle cx="727.3" cy="595.9" r="4.4" fill="#b0b6e2" fill-opacity="0.62"/><circle cx="750.9" cy="524.3" r="4.4" fill="#b0a070" fill-opacity="0.62"/><circle cx="742.4" cy="553.9" r="4.4" fill="#4a5fae" fill-opacity="0.62"/><circle cx="748.9" cy="553.0" r="4.4" fill="#d8405a" fill-opacity="0.62"/><circle cx="821.4" cy="550.7" r="4.4" fill="#8c8c8c" fill-opacity="0.62"/><circle cx="826.7" cy="546.1" r="4.4" fill="#a08090" fill-opacity="0.62"/><circle cx="815.3" cy="657.9" r="4.4" fill="#d8405a" fill-opacity="0.62"/><circle cx="836.4" cy="587.9" r="4.4" fill="#9a6090" fill-opacity="0.62"/><circle cx="836.5" cy="596.0" r="4.4" fill="#9a6090" fill-opacity="0.62"/><circle cx="818.3" cy="623.6" r="4.4" fill="#b0a070" fill-opacity="0.62"/><circle cx="837.2" cy="669.7" r="4.4" fill="#e79ac4" fill-opacity="0.62"/><circle cx="831.0" cy="578.3" r="4.4" fill="#b4d84a" fill-opacity="0.62"/><circle cx="817.3" cy="558.6" r="4.4" fill="#d8405a" fill-opacity="0.62"/><circle cx="817.7" cy="612.4" r="4.4" fill="#a08090" fill-opacity="0.62"/><circle cx="822.0" cy="642.5" r="4.4" fill="#c07cc8" fill-opacity="0.62"/><circle cx="815.7" cy="569.8" r="4.4" fill="#9a6090" fill-opacity="0.62"/><circle cx="809.1" cy="614.6" r="4.4" fill="#b0a070" fill-opacity="0.62"/><circle cx="830.2" cy="677.2" r="4.4" fill="#e79ac4" fill-opacity="0.62"/><circle cx="809.8" cy="582.1" r="4.4" fill="#5a8a3c" fill-opacity="0.62"/><circle cx="813.9" cy="638.5" r="4.4" fill="#4f9a88" fill-opacity="0.62"/><circle cx="827.0" cy="631.2" r="4.4" fill="#e79ac4" fill-opacity="0.62"/><circle cx="815.5" cy="548.4" r="4.4" fill="#b0b6e2" fill-opacity="0.62"/><circle cx="819.1" cy="626.2" r="4.4" fill="#8a8a7a" fill-opacity="0.62"/><circle cx="820.0" cy="546.4" r="4.4" fill="#9a7aa8" fill-opacity="0.62"/><circle cx="833.2" cy="669.3" r="4.4" fill="#e79ac4" fill-opacity="0.62"/><circle cx="841.3" cy="530.8" r="4.4" fill="#b0a070" fill-opacity="0.62"/><circle cx="829.2" cy="596.9" r="4.4" fill="#9a7aa8" fill-opacity="0.62"/><circle cx="823.0" cy="555.5" r="4.4" fill="#8c8c8c" fill-opacity="0.62"/><circle cx="813.1" cy="577.9" r="4.4" fill="#b0b6e2" fill-opacity="0.62"/><circle cx="813.4" cy="525.9" r="4.4" fill="#e79ac4" fill-opacity="0.62"/><circle cx="822.9" cy="677.7" r="4.4" fill="#5a8a3c" fill-opacity="0.62"/><circle cx="809.6" cy="556.4" r="4.4" fill="#9a52b0" fill-opacity="0.62"/><circle cx="841.5" cy="647.7" r="4.4" fill="#c07cc8" fill-opacity="0.62"/><circle cx="816.2" cy="534.8" r="4.4" fill="#9a52b0" fill-opacity="0.62"/><circle cx="834.6" cy="574.1" r="4.4" fill="#4f9a88" fill-opacity="0.62"/><circle cx="814.6" cy="624.0" r="4.4" fill="#8e5e2c" fill-opacity="0.62"/><circle cx="822.2" cy="547.0" r="4.4" fill="#8a7a50" fill-opacity="0.62"/><circle cx="815.1" cy="637.7" r="4.4" fill="#5a8a3c" fill-opacity="0.62"/><circle cx="816.0" cy="530.1" r="4.4" fill="#5a8a3c" fill-opacity="0.62"/><circle cx="816.7" cy="637.0" r="4.4" fill="#e79ac4" fill-opacity="0.62"/><circle cx="827.3" cy="543.6" r="4.4" fill="#b0b6e2" fill-opacity="0.62"/><circle cx="830.4" cy="594.6" r="4.4" fill="#9a52b0" fill-opacity="0.62"/><circle cx="814.9" cy="601.1" r="4.4" fill="#b0b6e2" fill-opacity="0.62"/><circle cx="819.3" cy="667.5" r="4.4" fill="#a83a5e" fill-opacity="0.62"/><circle cx="836.0" cy="650.5" r="4.4" fill="#b4d84a" fill-opacity="0.62"/><circle cx="835.5" cy="589.1" r="4.4" fill="#e79ac4" fill-opacity="0.62"/><circle cx="810.1" cy="669.4" r="4.4" fill="#9a6090" fill-opacity="0.62"/><circle cx="809.1" cy="652.1" r="4.4" fill="#c07cc8" fill-opacity="0.62"/><circle cx="830.9" cy="598.3" r="4.4" fill="#9a52b0" fill-opacity="0.62"/><circle cx="823.8" cy="653.3" r="4.4" fill="#a83a5e" fill-opacity="0.62"/><circle cx="815.1" cy="667.6" r="4.4" fill="#9a52b0" fill-opacity="0.62"/><circle cx="828.9" cy="553.6" r="4.4" fill="#9a6090" fill-opacity="0.62"/><circle cx="834.9" cy="589.5" r="4.4" fill="#8a7a50" fill-opacity="0.62"/><circle cx="814.6" cy="664.7" r="4.4" fill="#c07cc8" fill-opacity="0.62"/><circle cx="834.6" cy="594.0" r="4.4" fill="#a83a5e" fill-opacity="0.62"/><circle cx="810.3" cy="638.4" r="4.4" fill="#c07cc8" fill-opacity="0.62"/><circle cx="816.5" cy="575.8" r="4.4" fill="#8c8c8c" fill-opacity="0.62"/><circle cx="838.3" cy="526.6" r="4.4" fill="#9a52b0" fill-opacity="0.62"/><circle cx="810.1" cy="564.1" r="4.4" fill="#d8405a" fill-opacity="0.62"/><circle cx="841.7" cy="556.3" r="4.4" fill="#4a5fae" fill-opacity="0.62"/><circle cx="841.3" cy="571.8" r="4.4" fill="#6c4a9e" fill-opacity="0.62"/><circle cx="835.4" cy="595.4" r="4.4" fill="#e79ac4" fill-opacity="0.62"/><circle cx="837.5" cy="605.2" r="4.4" fill="#8e5e2c" fill-opacity="0.62"/><circle cx="814.4" cy="593.5" r="4.4" fill="#a08090" fill-opacity="0.62"/><circle cx="811.6" cy="640.7" r="4.4" fill="#d8405a" fill-opacity="0.62"/><circle cx="813.7" cy="593.1" r="4.4" fill="#8c8c8c" fill-opacity="0.62"/><circle cx="816.6" cy="592.3" r="4.4" fill="#9a52b0" fill-opacity="0.62"/><circle cx="818.4" cy="612.3" r="4.4" fill="#d8405a" fill-opacity="0.62"/><circle cx="828.5" cy="588.2" r="4.4" fill="#b4d84a" fill-opacity="0.62"/><circle cx="837.2" cy="558.5" r="4.4" fill="#e79ac4" fill-opacity="0.62"/><circle cx="837.7" cy="554.9" r="4.4" fill="#9a52b0" fill-opacity="0.62"/><circle cx="818.5" cy="648.6" r="4.4" fill="#8e5e2c" fill-opacity="0.62"/><circle cx="840.3" cy="646.1" r="4.4" fill="#b4d84a" fill-opacity="0.62"/><circle cx="823.0" cy="648.8" r="4.4" fill="#8c8c8c" fill-opacity="0.62"/><circle cx="842.0" cy="577.8" r="4.4" fill="#e79ac4" fill-opacity="0.62"/><circle cx="812.5" cy="549.5" r="4.4" fill="#c07cc8" fill-opacity="0.62"/><circle cx="820.5" cy="594.6" r="4.4" fill="#b0b6e2" fill-opacity="0.62"/><circle cx="838.4" cy="652.5" r="4.4" fill="#9a7aa8" fill-opacity="0.62"/><circle cx="813.8" cy="596.5" r="4.4" fill="#b0a070" fill-opacity="0.62"/><circle cx="838.4" cy="554.6" r="4.4" fill="#c07cc8" fill-opacity="0.62"/><circle cx="836.5" cy="544.0" r="4.4" fill="#e79ac4" fill-opacity="0.62"/><circle cx="813.0" cy="669.2" r="4.4" fill="#b0b6e2" fill-opacity="0.62"/><circle cx="842.2" cy="678.6" r="4.4" fill="#9a7aa8" fill-opacity="0.62"/><circle cx="811.6" cy="670.1" r="4.4" fill="#b0a070" fill-opacity="0.62"/><circle cx="815.3" cy="610.6" r="4.4" fill="#a08090" fill-opacity="0.62"/><circle cx="838.3" cy="653.3" r="4.4" fill="#8a7a50" fill-opacity="0.62"/><circle cx="818.3" cy="654.2" r="4.4" fill="#8a7a50" fill-opacity="0.62"/><circle cx="826.0" cy="644.2" r="4.4" fill="#8e5e2c" fill-opacity="0.62"/><circle cx="821.5" cy="636.0" r="4.4" fill="#e79ac4" fill-opacity="0.62"/><circle cx="808.0" cy="567.6" r="4.4" fill="#8a8a7a" fill-opacity="0.62"/><circle cx="827.1" cy="639.5" r="4.4" fill="#e79ac4" fill-opacity="0.62"/><circle cx="808.5" cy="566.4" r="4.4" fill="#b4d84a" fill-opacity="0.62"/><circle cx="842.1" cy="598.6" r="4.4" fill="#e79ac4" fill-opacity="0.62"/><circle cx="810.7" cy="630.7" r="4.4" fill="#9a6090" fill-opacity="0.62"/><circle cx="824.2" cy="607.7" r="4.4" fill="#c07cc8" fill-opacity="0.62"/><circle cx="815.8" cy="620.9" r="4.4" fill="#a08090" fill-opacity="0.62"/><circle cx="821.4" cy="547.6" r="4.4" fill="#b0b6e2" fill-opacity="0.62"/><circle cx="841.1" cy="644.8" r="4.4" fill="#9a6090" fill-opacity="0.62"/><circle cx="833.8" cy="529.9" r="4.4" fill="#5a8a3c" fill-opacity="0.62"/><circle cx="811.8" cy="531.3" r="4.4" fill="#9a52b0" fill-opacity="0.62"/><circle cx="828.8" cy="650.6" r="4.4" fill="#b0a070" fill-opacity="0.62"/><circle cx="830.4" cy="655.9" r="4.4" fill="#8c8c8c" fill-opacity="0.62"/><circle cx="827.1" cy="655.2" r="4.4" fill="#9a52b0" fill-opacity="0.62"/><circle cx="825.1" cy="645.1" r="4.4" fill="#8c8c8c" fill-opacity="0.62"/><circle cx="825.3" cy="561.4" r="4.4" fill="#4a5fae" fill-opacity="0.62"/><circle cx="816.5" cy="593.1" r="4.4" fill="#4a5fae" fill-opacity="0.62"/><circle cx="821.5" cy="630.2" r="4.4" fill="#8a8a7a" fill-opacity="0.62"/><circle cx="808.5" cy="568.3" r="4.4" fill="#9a52b0" fill-opacity="0.62"/><circle cx="810.5" cy="588.4" r="4.4" fill="#6c4a9e" fill-opacity="0.62"/><circle cx="716.2" cy="47.4" r="4.4" fill="#dcecb0" fill-opacity="0.62"/><circle cx="718.6" cy="74.0" r="4.4" fill="#9a52b0" fill-opacity="0.62"/><circle cx="751.4" cy="75.0" r="4.4" fill="#8c8c8c" fill-opacity="0.62"/><circle cx="739.5" cy="81.1" r="4.4" fill="#9a52b0" fill-opacity="0.62"/><circle cx="746.2" cy="82.8" r="4.4" fill="#6c4a9e" fill-opacity="0.62"/><circle cx="729.9" cy="87.3" r="4.4" fill="#e79ac4" fill-opacity="0.62"/><circle cx="743.6" cy="90.3" r="4.4" fill="#e79ac4" fill-opacity="0.62"/><circle cx="751.4" cy="91.8" r="4.4" fill="#b4d84a" fill-opacity="0.62"/><circle cx="718.0" cy="95.9" r="4.4" fill="#5a8a3c" fill-opacity="0.62"/><circle cx="734.0" cy="95.9" r="4.4" fill="#8c8c8c" fill-opacity="0.62"/><circle cx="718.6" cy="100.6" r="4.4" fill="#b0b6e2" fill-opacity="0.62"/><circle cx="737.5" cy="100.6" r="4.4" fill="#9a52b0" fill-opacity="0.62"/><circle cx="739.5" cy="105.7" r="4.4" fill="#e79ac4" fill-opacity="0.62"/><circle cx="727.4" cy="104.0" r="4.4" fill="#6c4a9e" fill-opacity="0.62"/><circle cx="750.8" cy="100.6" r="4.4" fill="#9a52b0" fill-opacity="0.62"/><circle cx="722.7" cy="110.8" r="4.4" fill="#d8405a" fill-opacity="0.62"/><circle cx="725.2" cy="113.5" r="4.4" fill="#e79ac4" fill-opacity="0.62"/><circle cx="715.6" cy="115.9" r="4.4" fill="#dcecb0" fill-opacity="0.62"/><circle cx="735.4" cy="113.9" r="4.4" fill="#4f9a88" fill-opacity="0.62"/><circle cx="747.3" cy="113.9" r="4.4" fill="#dcecb0" fill-opacity="0.62"/><circle cx="717.6" cy="121.0" r="4.4" fill="#8c8c8c" fill-opacity="0.62"/><circle cx="723.8" cy="122.0" r="4.4" fill="#8c8c8c" fill-opacity="0.62"/><circle cx="739.1" cy="118.0" r="4.4" fill="#9a52b0" fill-opacity="0.62"/><circle cx="751.4" cy="121.0" r="4.4" fill="#4a5fae" fill-opacity="0.62"/><circle cx="729.9" cy="126.1" r="4.4" fill="#8e5e2c" fill-opacity="0.62"/><circle cx="740.1" cy="126.1" r="4.4" fill="#9a52b0" fill-opacity="0.62"/><circle cx="747.3" cy="130.2" r="4.4" fill="#52b27a" fill-opacity="0.62"/><circle cx="718.6" cy="132.3" r="4.4" fill="#8c8c8c" fill-opacity="0.62"/><circle cx="726.8" cy="134.3" r="4.4" fill="#d8405a" fill-opacity="0.62"/><circle cx="733.0" cy="136.4" r="4.4" fill="#e79ac4" fill-opacity="0.62"/><circle cx="740.1" cy="132.3" r="4.4" fill="#5a8a3c" fill-opacity="0.62"/><circle cx="751.4" cy="136.4" r="4.4" fill="#9a52b0" fill-opacity="0.62"/><circle cx="745.2" cy="137.4" r="4.4" fill="#9a52b0" fill-opacity="0.62"/><circle cx="715.6" cy="140.5" r="4.4" fill="#8c8c8c" fill-opacity="0.62"/><circle cx="723.8" cy="141.5" r="4.4" fill="#e79ac4" fill-opacity="0.62"/><circle cx="738.1" cy="142.5" r="4.4" fill="#9a52b0" fill-opacity="0.62"/><circle cx="741.1" cy="144.5" r="4.4" fill="#9a52b0" fill-opacity="0.62"/><circle cx="716.6" cy="147.6" r="4.4" fill="#9a52b0" fill-opacity="0.62"/><circle cx="722.7" cy="150.7" r="4.4" fill="#9a52b0" fill-opacity="0.62"/><circle cx="728.9" cy="148.6" r="4.4" fill="#8c8c8c" fill-opacity="0.62"/><circle cx="745.2" cy="146.6" r="4.4" fill="#9a52b0" fill-opacity="0.62"/><circle cx="719.7" cy="153.8" r="4.4" fill="#9a52b0" fill-opacity="0.62"/><circle cx="725.8" cy="155.8" r="4.4" fill="#9a52b0" fill-opacity="0.62"/><circle cx="737.0" cy="152.7" r="4.4" fill="#e79ac4" fill-opacity="0.62"/><circle cx="747.3" cy="152.7" r="4.4" fill="#e79ac4" fill-opacity="0.62"/><circle cx="743.2" cy="155.8" r="4.4" fill="#9a52b0" fill-opacity="0.62"/><circle cx="720.7" cy="158.9" r="4.4" fill="#9a52b0" fill-opacity="0.62"/><circle cx="726.8" cy="157.8" r="4.4" fill="#9a52b0" fill-opacity="0.62"/><circle cx="738.1" cy="157.8" r="4.4" fill="#9a52b0" fill-opacity="0.62"/><circle cx="750.3" cy="156.8" r="4.4" fill="#e79ac4" fill-opacity="0.62"/><circle cx="720.7" cy="171.1" r="4.4" fill="#64c4e6" fill-opacity="0.62"/><circle cx="726.8" cy="170.1" r="4.4" fill="#9a52b0" fill-opacity="0.62"/><circle cx="743.2" cy="171.1" r="4.4" fill="#e79ac4" fill-opacity="0.62"/><circle cx="748.3" cy="171.1" r="4.4" fill="#8c8c8c" fill-opacity="0.62"/><circle cx="723.8" cy="183.4" r="4.4" fill="#9a52b0" fill-opacity="0.62"/><circle cx="731.9" cy="182.4" r="4.4" fill="#8c8c8c" fill-opacity="0.62"/><circle cx="740.1" cy="185.5" r="4.4" fill="#9a52b0" fill-opacity="0.62"/><circle cx="749.3" cy="183.4" r="4.4" fill="#9a52b0" fill-opacity="0.62"/><circle cx="807.0" cy="83.6" r="4.4" fill="#dcecb0" fill-opacity="0.62"/><circle cx="814.2" cy="84.8" r="4.4" fill="#64c4e6" fill-opacity="0.62"/><circle cx="814.8" cy="89.3" r="4.4" fill="#e79ac4" fill-opacity="0.62"/><circle cx="808.6" cy="94.4" r="4.4" fill="#9a52b0" fill-opacity="0.62"/><circle cx="812.7" cy="97.5" r="4.4" fill="#8c8c8c" fill-opacity="0.62"/><circle cx="833.2" cy="103.0" r="4.4" fill="#4a5fae" fill-opacity="0.62"/><circle cx="842.4" cy="108.8" r="4.4" fill="#4a5fae" fill-opacity="0.62"/><circle cx="807.6" cy="107.7" r="4.4" fill="#9a52b0" fill-opacity="0.62"/><circle cx="812.1" cy="112.8" r="4.4" fill="#b4d84a" fill-opacity="0.62"/><circle cx="818.9" cy="113.9" r="4.4" fill="#9a52b0" fill-opacity="0.62"/><circle cx="824.0" cy="109.8" r="4.4" fill="#9a52b0" fill-opacity="0.62"/><circle cx="837.3" cy="113.9" r="4.4" fill="#5a8a3c" fill-opacity="0.62"/><circle cx="806.6" cy="118.0" r="4.4" fill="#e79ac4" fill-opacity="0.62"/><circle cx="810.7" cy="122.0" r="4.4" fill="#4a5fae" fill-opacity="0.62"/><circle cx="825.0" cy="124.1" r="4.4" fill="#5b93d4" fill-opacity="0.62"/><circle cx="831.1" cy="125.1" r="4.4" fill="#e79ac4" fill-opacity="0.62"/><circle cx="841.4" cy="128.2" r="4.4" fill="#b4d84a" fill-opacity="0.62"/><circle cx="812.7" cy="130.2" r="4.4" fill="#b4d84a" fill-opacity="0.62"/><circle cx="816.8" cy="130.2" r="4.4" fill="#8c8c8c" fill-opacity="0.62"/><circle cx="825.0" cy="132.3" r="4.4" fill="#e79ac4" fill-opacity="0.62"/><circle cx="807.6" cy="134.3" r="4.4" fill="#e79ac4" fill-opacity="0.62"/><circle cx="812.7" cy="139.4" r="4.4" fill="#8e5e2c" fill-opacity="0.62"/><circle cx="816.8" cy="142.5" r="4.4" fill="#64c4e6" fill-opacity="0.62"/><circle cx="823.0" cy="138.4" r="4.4" fill="#8c8c8c" fill-opacity="0.62"/><circle cx="837.3" cy="136.4" r="4.4" fill="#d8405a" fill-opacity="0.62"/><circle cx="808.6" cy="145.6" r="4.4" fill="#9a52b0" fill-opacity="0.62"/><circle cx="814.8" cy="146.6" r="4.4" fill="#e79ac4" fill-opacity="0.62"/><circle cx="820.9" cy="147.6" r="4.4" fill="#b4d84a" fill-opacity="0.62"/><circle cx="829.1" cy="148.6" r="4.4" fill="#9a52b0" fill-opacity="0.62"/><circle cx="841.4" cy="144.5" r="4.4" fill="#9a52b0" fill-opacity="0.62"/><circle cx="812.7" cy="152.7" r="4.4" fill="#e79ac4" fill-opacity="0.62"/><circle cx="820.9" cy="154.8" r="4.4" fill="#9a52b0" fill-opacity="0.62"/><circle cx="829.1" cy="157.8" r="4.4" fill="#9a52b0" fill-opacity="0.62"/><circle cx="837.3" cy="160.9" r="4.4" fill="#64c4e6" fill-opacity="0.62"/><circle cx="806.6" cy="163.0" r="4.4" fill="#dcecb0" fill-opacity="0.62"/><circle cx="810.7" cy="169.1" r="4.4" fill="#8c8c8c" fill-opacity="0.62"/><circle cx="823.0" cy="166.0" r="4.4" fill="#5a8a3c" fill-opacity="0.62"/><circle cx="831.1" cy="169.1" r="4.4" fill="#8c8c8c" fill-opacity="0.62"/><circle cx="839.3" cy="171.1" r="4.4" fill="#e79ac4" fill-opacity="0.62"/><circle cx="807.6" cy="173.2" r="4.4" fill="#9a52b0" fill-opacity="0.62"/><circle cx="814.8" cy="176.2" r="4.4" fill="#9a52b0" fill-opacity="0.62"/><circle cx="823.0" cy="173.2" r="4.4" fill="#8c8c8c" fill-opacity="0.62"/><circle cx="837.3" cy="177.3" r="4.4" fill="#e79ac4" fill-opacity="0.62"/><circle cx="718.3" cy="186.1" r="4.4" fill="#e79ac4" fill-opacity="0.62"/><circle cx="725.4" cy="183.0" r="4.4" fill="#9a52b0" fill-opacity="0.62"/><circle cx="732.4" cy="182.4" r="4.4" fill="#8c8c8c" fill-opacity="0.62"/><circle cx="749.2" cy="185.1" r="4.4" fill="#9a52b0" fill-opacity="0.62"/><circle cx="749.6" cy="189.1" r="4.4" fill="#e79ac4" fill-opacity="0.62"/><circle cx="726.4" cy="194.2" r="4.4" fill="#e79ac4" fill-opacity="0.62"/><circle cx="736.5" cy="192.1" r="4.4" fill="#6c4a9e" fill-opacity="0.62"/><circle cx="740.5" cy="189.1" r="4.4" fill="#9a52b0" fill-opacity="0.62"/><circle cx="731.4" cy="202.3" r="4.4" fill="#9a52b0" fill-opacity="0.62"/><circle cx="744.6" cy="196.2" r="4.4" fill="#b4d84a" fill-opacity="0.62"/><circle cx="748.6" cy="199.2" r="4.4" fill="#9a52b0" fill-opacity="0.62"/><circle cx="751.7" cy="202.3" r="4.4" fill="#8c8c8c" fill-opacity="0.62"/><circle cx="719.3" cy="204.3" r="4.4" fill="#b4d84a" fill-opacity="0.62"/><circle cx="715.2" cy="211.4" r="4.4" fill="#9a52b0" fill-opacity="0.62"/><circle cx="723.3" cy="212.4" r="4.4" fill="#8c8c8c" fill-opacity="0.62"/><circle cx="726.4" cy="210.4" r="4.4" fill="#9a52b0" fill-opacity="0.62"/><circle cx="738.5" cy="209.3" r="4.4" fill="#9a52b0" fill-opacity="0.62"/><circle cx="743.6" cy="208.3" r="4.4" fill="#e79ac4" fill-opacity="0.62"/><circle cx="749.6" cy="210.4" r="4.4" fill="#6c4a9e" fill-opacity="0.62"/><circle cx="745.6" cy="214.4" r="4.4" fill="#9a52b0" fill-opacity="0.62"/><circle cx="734.5" cy="217.4" r="4.4" fill="#9a52b0" fill-opacity="0.62"/><circle cx="728.4" cy="219.5" r="4.4" fill="#9a6090" fill-opacity="0.62"/><circle cx="720.3" cy="223.5" r="4.4" fill="#e79ac4" fill-opacity="0.62"/><circle cx="721.3" cy="227.6" r="4.4" fill="#8c8c8c" fill-opacity="0.62"/><circle cx="727.4" cy="228.6" r="4.4" fill="#5a8a3c" fill-opacity="0.62"/><circle cx="730.4" cy="221.5" r="4.4" fill="#b4d84a" fill-opacity="0.62"/><circle cx="740.5" cy="224.5" r="4.4" fill="#5a8a3c" fill-opacity="0.62"/><circle cx="748.0" cy="228.6" r="4.4" fill="#4f9a88" fill-opacity="0.62"/><circle cx="748.6" cy="220.5" r="4.4" fill="#64c4e6" fill-opacity="0.62"/><circle cx="715.2" cy="236.7" r="4.4" fill="#e79ac4" fill-opacity="0.62"/><circle cx="722.3" cy="235.7" r="4.4" fill="#9a52b0" fill-opacity="0.62"/><circle cx="717.3" cy="241.7" r="4.4" fill="#b4d84a" fill-opacity="0.62"/><circle cx="734.5" cy="240.7" r="4.4" fill="#b4d84a" fill-opacity="0.62"/><circle cx="736.5" cy="233.6" r="4.4" fill="#e060a0" fill-opacity="0.62"/><circle cx="741.5" cy="237.7" r="4.4" fill="#9a52b0" fill-opacity="0.62"/><circle cx="750.7" cy="237.7" r="4.4" fill="#e79ac4" fill-opacity="0.62"/><circle cx="725.4" cy="245.8" r="4.4" fill="#4a5fae" fill-opacity="0.62"/><circle cx="740.5" cy="247.8" r="4.4" fill="#dcecb0" fill-opacity="0.62"/><circle cx="721.3" cy="252.9" r="4.4" fill="#e79ac4" fill-opacity="0.62"/><circle cx="716.2" cy="256.9" r="4.4" fill="#4a5fae" fill-opacity="0.62"/><circle cx="737.5" cy="255.9" r="4.4" fill="#c07cc8" fill-opacity="0.62"/><circle cx="724.3" cy="276.1" r="4.4" fill="#e79ac4" fill-opacity="0.62"/><circle cx="729.4" cy="280.2" r="4.4" fill="#8e5e2c" fill-opacity="0.62"/><circle cx="743.6" cy="276.1" r="4.4" fill="#e79ac4" fill-opacity="0.62"/><circle cx="750.2" cy="270.1" r="4.4" fill="#5b93d4" fill-opacity="0.62"/><circle cx="808.3" cy="203.3" r="4.4" fill="#8c8c8c" fill-opacity="0.62"/><circle cx="816.4" cy="202.3" r="4.4" fill="#5b93d4" fill-opacity="0.62"/><circle cx="823.5" cy="206.3" r="4.4" fill="#9a52b0" fill-opacity="0.62"/><circle cx="836.7" cy="204.3" r="4.4" fill="#b0b6e2" fill-opacity="0.62"/><circle cx="840.7" cy="204.3" r="4.4" fill="#8c8c8c" fill-opacity="0.62"/><circle cx="808.3" cy="214.4" r="4.4" fill="#9a52b0" fill-opacity="0.62"/><circle cx="816.4" cy="213.4" r="4.4" fill="#8c8c8c" fill-opacity="0.62"/><circle cx="824.5" cy="210.4" r="4.4" fill="#9a52b0" fill-opacity="0.62"/><circle cx="834.6" cy="211.4" r="4.4" fill="#6c4a9e" fill-opacity="0.62"/><circle cx="840.7" cy="210.4" r="4.4" fill="#e79ac4" fill-opacity="0.62"/><circle cx="811.4" cy="221.5" r="4.4" fill="#4a5fae" fill-opacity="0.62"/><circle cx="818.5" cy="220.5" r="4.4" fill="#9a52b0" fill-opacity="0.62"/><circle cx="827.6" cy="223.5" r="4.4" fill="#5a8a3c" fill-opacity="0.62"/><circle cx="836.7" cy="218.5" r="4.4" fill="#9a52b0" fill-opacity="0.62"/><circle cx="842.7" cy="221.5" r="4.4" fill="#bfe5cf" fill-opacity="0.62"/><circle cx="837.7" cy="225.5" r="4.4" fill="#b4d84a" fill-opacity="0.62"/><circle cx="810.4" cy="228.6" r="4.4" fill="#5a8a3c" fill-opacity="0.62"/><circle cx="816.4" cy="227.6" r="4.4" fill="#8c8c8c" fill-opacity="0.62"/><circle cx="824.5" cy="231.6" r="4.4" fill="#9a52b0" fill-opacity="0.62"/><circle cx="832.6" cy="229.6" r="4.4" fill="#e79ac4" fill-opacity="0.62"/><circle cx="839.7" cy="230.6" r="4.4" fill="#8e5e2c" fill-opacity="0.62"/><circle cx="808.3" cy="236.7" r="4.4" fill="#e060a0" fill-opacity="0.62"/><circle cx="818.5" cy="237.7" r="4.4" fill="#e79ac4" fill-opacity="0.62"/><circle cx="827.6" cy="236.7" r="4.4" fill="#9a52b0" fill-opacity="0.62"/><circle cx="836.7" cy="235.7" r="4.4" fill="#b4d84a" fill-opacity="0.62"/><circle cx="840.7" cy="238.7" r="4.4" fill="#b4d84a" fill-opacity="0.62"/><circle cx="806.3" cy="249.8" r="4.4" fill="#9a52b0" fill-opacity="0.62"/><circle cx="811.4" cy="246.8" r="4.4" fill="#a83a5e" fill-opacity="0.62"/><circle cx="816.4" cy="246.8" r="4.4" fill="#c07cc8" fill-opacity="0.62"/><circle cx="824.5" cy="245.8" r="4.4" fill="#9a52b0" fill-opacity="0.62"/><circle cx="832.6" cy="246.8" r="4.4" fill="#9a52b0" fill-opacity="0.62"/><circle cx="840.7" cy="245.8" r="4.4" fill="#9a52b0" fill-opacity="0.62"/><circle cx="826.5" cy="255.9" r="4.4" fill="#e79ac4" fill-opacity="0.62"/><circle cx="831.6" cy="254.9" r="4.4" fill="#8e5e2c" fill-opacity="0.62"/><circle cx="836.7" cy="258.9" r="4.4" fill="#5b93d4" fill-opacity="0.62"/><circle cx="841.7" cy="261.0" r="4.4" fill="#dcecb0" fill-opacity="0.62"/><circle cx="812.4" cy="271.1" r="4.4" fill="#e79ac4" fill-opacity="0.62"/><circle cx="821.5" cy="266.0" r="4.4" fill="#8c8c8c" fill-opacity="0.62"/><circle cx="816.4" cy="275.1" r="4.4" fill="#e79ac4" fill-opacity="0.62"/><circle cx="824.5" cy="273.1" r="4.4" fill="#4f9a88" fill-opacity="0.62"/><circle cx="829.6" cy="275.1" r="4.4" fill="#e79ac4" fill-opacity="0.62"/><circle cx="834.6" cy="267.0" r="4.4" fill="#4f9a88" fill-opacity="0.62"/><circle cx="838.7" cy="267.0" r="4.4" fill="#4a5fae" fill-opacity="0.62"/><circle cx="809.3" cy="296.4" r="4.4" fill="#e79ac4" fill-opacity="0.62"/><circle cx="817.4" cy="296.4" r="4.4" fill="#e79ac4" fill-opacity="0.62"/><circle cx="808.3" cy="303.0" r="4.4" fill="#9a52b0" fill-opacity="0.62"/><circle cx="814.4" cy="301.4" r="4.4" fill="#9a52b0" fill-opacity="0.62"/><circle cx="818.9" cy="303.5" r="4.4" fill="#9a52b0" fill-opacity="0.62"/><circle cx="823.5" cy="320.7" r="4.4" fill="#e79ac4" fill-opacity="0.62"/><circle cx="813.4" cy="347.0" r="4.4" fill="#b09060" fill-opacity="0.62"/><circle cx="735.4" cy="468.5" r="4.4" fill="#9a52b0" fill-opacity="0.62"/><circle cx="744.2" cy="475.3" r="4.4" fill="#dcecb0" fill-opacity="0.62"/><circle cx="723.8" cy="484.9" r="4.4" fill="#8c8c8c" fill-opacity="0.62"/><circle cx="718.6" cy="494.1" r="4.4" fill="#e060a0" fill-opacity="0.62"/><circle cx="726.8" cy="494.1" r="4.4" fill="#5a8a3c" fill-opacity="0.62"/><circle cx="735.4" cy="494.1" r="4.4" fill="#9a52b0" fill-opacity="0.62"/><circle cx="749.3" cy="494.1" r="4.4" fill="#9a52b0" fill-opacity="0.62"/><circle cx="719.7" cy="499.2" r="4.4" fill="#b0b6e2" fill-opacity="0.62"/><circle cx="738.1" cy="500.2" r="4.4" fill="#4f9a88" fill-opacity="0.62"/><circle cx="741.1" cy="501.2" r="4.4" fill="#9a52b0" fill-opacity="0.62"/><circle cx="716.6" cy="505.3" r="4.4" fill="#a08a50" fill-opacity="0.62"/><circle cx="734.0" cy="506.0" r="4.4" fill="#d8405a" fill-opacity="0.62"/><circle cx="727.8" cy="513.5" r="4.4" fill="#9a52b0" fill-opacity="0.62"/><circle cx="739.1" cy="514.5" r="4.4" fill="#b0b6e2" fill-opacity="0.62"/><circle cx="748.3" cy="515.6" r="4.4" fill="#7a7a50" fill-opacity="0.62"/><circle cx="728.9" cy="518.6" r="4.4" fill="#6c4a9e" fill-opacity="0.62"/><circle cx="737.0" cy="518.6" r="4.4" fill="#bfe5cf" fill-opacity="0.62"/><circle cx="743.2" cy="522.7" r="4.4" fill="#8a7a40" fill-opacity="0.62"/><circle cx="730.9" cy="529.9" r="4.4" fill="#e79ac4" fill-opacity="0.62"/><circle cx="739.1" cy="528.9" r="4.4" fill="#e79ac4" fill-opacity="0.62"/><circle cx="748.3" cy="527.8" r="4.4" fill="#9a52b0" fill-opacity="0.62"/><circle cx="747.3" cy="535.0" r="4.4" fill="#8c8c8c" fill-opacity="0.62"/><circle cx="747.3" cy="539.1" r="4.4" fill="#8e5e2c" fill-opacity="0.62"/><circle cx="721.7" cy="540.1" r="4.4" fill="#9a52b0" fill-opacity="0.62"/><circle cx="730.9" cy="538.1" r="4.4" fill="#4f9a88" fill-opacity="0.62"/><circle cx="720.7" cy="547.3" r="4.4" fill="#9a52b0" fill-opacity="0.62"/><circle cx="734.0" cy="545.2" r="4.4" fill="#b4d84a" fill-opacity="0.62"/><circle cx="743.2" cy="545.2" r="4.4" fill="#8c8c8c" fill-opacity="0.62"/><circle cx="727.8" cy="550.3" r="4.4" fill="#8c8c8c" fill-opacity="0.62"/><circle cx="745.2" cy="553.4" r="4.4" fill="#9a52b0" fill-opacity="0.62"/><circle cx="739.1" cy="557.5" r="4.4" fill="#e79ac4" fill-opacity="0.62"/><circle cx="720.7" cy="561.2" r="4.4" fill="#8a7a40" fill-opacity="0.62"/><circle cx="727.8" cy="561.6" r="4.4" fill="#8c8c8c" fill-opacity="0.62"/><circle cx="733.0" cy="560.6" r="4.4" fill="#9a52b0" fill-opacity="0.62"/><circle cx="743.2" cy="559.5" r="4.4" fill="#9a52b0" fill-opacity="0.62"/><circle cx="751.4" cy="563.6" r="4.4" fill="#8c8c8c" fill-opacity="0.62"/><circle cx="715.6" cy="567.3" r="4.4" fill="#b0b6e2" fill-opacity="0.62"/><circle cx="723.8" cy="570.8" r="4.4" fill="#d8405a" fill-opacity="0.62"/><circle cx="737.0" cy="568.8" r="4.4" fill="#9a52b0" fill-opacity="0.62"/><circle cx="741.1" cy="568.8" r="4.4" fill="#5a8a3c" fill-opacity="0.62"/><circle cx="746.2" cy="569.8" r="4.4" fill="#9a52b0" fill-opacity="0.62"/><circle cx="730.9" cy="573.9" r="4.4" fill="#9a52b0" fill-opacity="0.62"/><circle cx="719.7" cy="586.1" r="4.4" fill="#8c8c8c" fill-opacity="0.62"/><circle cx="749.3" cy="586.1" r="4.4" fill="#e79ac4" fill-opacity="0.62"/><circle cx="716.6" cy="595.3" r="4.4" fill="#b0b6e2" fill-opacity="0.62"/><circle cx="748.3" cy="594.3" r="4.4" fill="#8e5e2c" fill-opacity="0.62"/><circle cx="719.7" cy="602.5" r="4.4" fill="#e89a40" fill-opacity="0.62"/><circle cx="737.0" cy="602.5" r="4.4" fill="#dcecb0" fill-opacity="0.62"/><circle cx="807.6" cy="478.8" r="4.4" fill="#bfe5cf" fill-opacity="0.62"/><circle cx="837.9" cy="484.9" r="4.4" fill="#9a52b0" fill-opacity="0.62"/><circle cx="807.6" cy="508.8" r="4.4" fill="#b8e0f0" fill-opacity="0.62"/><circle cx="840.8" cy="500.6" r="4.4" fill="#8a7a30" fill-opacity="0.62"/><circle cx="837.3" cy="499.2" r="4.4" fill="#dcecb0" fill-opacity="0.62"/><circle cx="823.4" cy="506.4" r="4.4" fill="#e79ac4" fill-opacity="0.62"/><circle cx="827.0" cy="506.4" r="4.4" fill="#e79ac4" fill-opacity="0.62"/><circle cx="826.6" cy="515.6" r="4.4" fill="#8c8c8c" fill-opacity="0.62"/><circle cx="818.9" cy="517.6" r="4.4" fill="#b4d84a" fill-opacity="0.62"/><circle cx="834.2" cy="514.5" r="4.4" fill="#5b93d4" fill-opacity="0.62"/><circle cx="839.9" cy="517.6" r="4.4" fill="#9a52b0" fill-opacity="0.62"/><circle cx="832.2" cy="521.7" r="4.4" fill="#e79ac4" fill-opacity="0.62"/><circle cx="833.2" cy="528.9" r="4.4" fill="#9a6090" fill-opacity="0.62"/><circle cx="841.4" cy="530.9" r="4.4" fill="#e8b090" fill-opacity="0.62"/><circle cx="842.4" cy="537.0" r="4.4" fill="#e79ac4" fill-opacity="0.62"/><circle cx="812.7" cy="530.9" r="4.4" fill="#9a8070" fill-opacity="0.62"/><circle cx="818.9" cy="530.9" r="4.4" fill="#e79ac4" fill-opacity="0.62"/><circle cx="813.8" cy="539.1" r="4.4" fill="#bfe5cf" fill-opacity="0.62"/><circle cx="823.0" cy="538.1" r="4.4" fill="#e79ac4" fill-opacity="0.62"/><circle cx="819.9" cy="545.2" r="4.4" fill="#bfe5cf" fill-opacity="0.62"/><circle cx="834.2" cy="542.2" r="4.4" fill="#e0c080" fill-opacity="0.62"/><circle cx="807.6" cy="547.3" r="4.4" fill="#dcecb0" fill-opacity="0.62"/><circle cx="816.8" cy="549.3" r="4.4" fill="#64c4e6" fill-opacity="0.62"/><circle cx="840.3" cy="550.3" r="4.4" fill="#8c8c8c" fill-opacity="0.62"/><circle cx="836.2" cy="551.4" r="4.4" fill="#4a5fae" fill-opacity="0.62"/><circle cx="843.0" cy="555.5" r="4.4" fill="#e79ac4" fill-opacity="0.62"/><circle cx="806.6" cy="556.5" r="4.4" fill="#4a5fae" fill-opacity="0.62"/><circle cx="814.8" cy="555.5" r="4.4" fill="#d0a050" fill-opacity="0.62"/><circle cx="823.0" cy="554.4" r="4.4" fill="#e79ac4" fill-opacity="0.62"/><circle cx="831.1" cy="556.5" r="4.4" fill="#8c8c8c" fill-opacity="0.62"/><circle cx="837.3" cy="559.5" r="4.4" fill="#4f9a88" fill-opacity="0.62"/><circle cx="811.7" cy="562.6" r="4.4" fill="#4a5fae" fill-opacity="0.62"/><circle cx="820.9" cy="563.6" r="4.4" fill="#8c8c8c" fill-opacity="0.62"/><circle cx="826.0" cy="563.6" r="4.4" fill="#9a52b0" fill-opacity="0.62"/><circle cx="833.2" cy="565.7" r="4.4" fill="#5b93d4" fill-opacity="0.62"/><circle cx="842.4" cy="561.6" r="4.4" fill="#8c8c8c" fill-opacity="0.62"/><circle cx="842.4" cy="566.7" r="4.4" fill="#dcecb0" fill-opacity="0.62"/><circle cx="807.6" cy="570.8" r="4.4" fill="#9a52b0" fill-opacity="0.62"/><circle cx="811.7" cy="571.8" r="4.4" fill="#d8405a" fill-opacity="0.62"/><circle cx="818.9" cy="572.8" r="4.4" fill="#4a5fae" fill-opacity="0.62"/><circle cx="828.1" cy="575.9" r="4.4" fill="#8c8c8c" fill-opacity="0.62"/><circle cx="833.2" cy="571.8" r="4.4" fill="#bfe5cf" fill-opacity="0.62"/><circle cx="841.4" cy="575.9" r="4.4" fill="#b0b6e2" fill-opacity="0.62"/><circle cx="806.6" cy="578.0" r="4.4" fill="#dcecb0" fill-opacity="0.62"/><circle cx="812.7" cy="584.1" r="4.4" fill="#9a52b0" fill-opacity="0.62"/><circle cx="819.9" cy="580.0" r="4.4" fill="#e79ac4" fill-opacity="0.62"/><circle cx="831.1" cy="584.1" r="4.4" fill="#8c8c8c" fill-opacity="0.62"/><circle cx="838.3" cy="584.1" r="4.4" fill="#9a52b0" fill-opacity="0.62"/><circle cx="808.6" cy="591.2" r="4.4" fill="#8c8c8c" fill-opacity="0.62"/><circle cx="820.9" cy="588.2" r="4.4" fill="#e79ac4" fill-opacity="0.62"/><circle cx="833.2" cy="588.2" r="4.4" fill="#9a52b0" fill-opacity="0.62"/><circle cx="841.4" cy="590.2" r="4.4" fill="#9a52b0" fill-opacity="0.62"/><circle cx="716.6" cy="596.0" r="4.4" fill="#b0b6e2" fill-opacity="0.62"/><circle cx="748.3" cy="596.0" r="4.4" fill="#8e5e2c" fill-opacity="0.62"/><circle cx="720.7" cy="604.2" r="4.4" fill="#d09050" fill-opacity="0.62"/><circle cx="730.9" cy="608.3" r="4.4" fill="#d8405a" fill-opacity="0.62"/><circle cx="739.1" cy="603.2" r="4.4" fill="#dcecb0" fill-opacity="0.62"/><circle cx="728.9" cy="606.2" r="4.4" fill="#9a52b0" fill-opacity="0.62"/><circle cx="715.6" cy="616.5" r="4.4" fill="#8e5e2c" fill-opacity="0.62"/><circle cx="722.7" cy="616.5" r="4.4" fill="#4a5fae" fill-opacity="0.62"/><circle cx="725.8" cy="620.6" r="4.4" fill="#8c8c8c" fill-opacity="0.62"/><circle cx="740.1" cy="620.6" r="4.4" fill="#8e5e2c" fill-opacity="0.62"/><circle cx="749.3" cy="619.5" r="4.4" fill="#9a52b0" fill-opacity="0.62"/><circle cx="752.4" cy="622.6" r="4.4" fill="#8c8c8c" fill-opacity="0.62"/><circle cx="717.6" cy="625.7" r="4.4" fill="#c07cc8" fill-opacity="0.62"/><circle cx="731.9" cy="625.7" r="4.4" fill="#9a52b0" fill-opacity="0.62"/><circle cx="742.2" cy="626.7" r="4.4" fill="#8e5e2c" fill-opacity="0.62"/><circle cx="723.8" cy="628.8" r="4.4" fill="#e89a40" fill-opacity="0.62"/><circle cx="733.0" cy="630.8" r="4.4" fill="#b4d84a" fill-opacity="0.62"/><circle cx="740.1" cy="632.8" r="4.4" fill="#9a52b0" fill-opacity="0.62"/><circle cx="749.3" cy="632.8" r="4.4" fill="#e79ac4" fill-opacity="0.62"/><circle cx="718.6" cy="638.0" r="4.4" fill="#8e5e2c" fill-opacity="0.62"/><circle cx="726.8" cy="636.9" r="4.4" fill="#8c8c8c" fill-opacity="0.62"/><circle cx="736.0" cy="636.9" r="4.4" fill="#9a52b0" fill-opacity="0.62"/><circle cx="746.2" cy="638.0" r="4.4" fill="#9a52b0" fill-opacity="0.62"/><circle cx="744.2" cy="642.0" r="4.4" fill="#a83a5e" fill-opacity="0.62"/><circle cx="720.7" cy="644.1" r="4.4" fill="#9a52b0" fill-opacity="0.62"/><circle cx="727.8" cy="644.1" r="4.4" fill="#8e5e2c" fill-opacity="0.62"/><circle cx="734.0" cy="642.0" r="4.4" fill="#4f9a88" fill-opacity="0.62"/><circle cx="741.1" cy="647.2" r="4.4" fill="#d0e8f0" fill-opacity="0.62"/><circle cx="747.3" cy="646.1" r="4.4" fill="#b4d84a" fill-opacity="0.62"/><circle cx="716.6" cy="652.3" r="4.4" fill="#9a52b0" fill-opacity="0.62"/><circle cx="725.8" cy="651.2" r="4.4" fill="#8e5e2c" fill-opacity="0.62"/><circle cx="733.0" cy="653.3" r="4.4" fill="#9a52b0" fill-opacity="0.62"/><circle cx="748.3" cy="652.3" r="4.4" fill="#e79ac4" fill-opacity="0.62"/><circle cx="729.9" cy="660.5" r="4.4" fill="#b4d84a" fill-opacity="0.62"/><circle cx="736.0" cy="661.5" r="4.4" fill="#4f9a88" fill-opacity="0.62"/><circle cx="736.0" cy="665.6" r="4.4" fill="#4a5fae" fill-opacity="0.62"/><circle cx="723.8" cy="670.7" r="4.4" fill="#f0d0d8" fill-opacity="0.62"/><circle cx="743.2" cy="668.6" r="4.4" fill="#5b93d4" fill-opacity="0.62"/><circle cx="751.4" cy="675.8" r="4.4" fill="#e79ac4" fill-opacity="0.62"/><circle cx="737.5" cy="682.5" r="4.4" fill="#a08040" fill-opacity="0.62"/><circle cx="806.6" cy="615.5" r="4.4" fill="#b4d84a" fill-opacity="0.62"/><circle cx="812.7" cy="616.5" r="4.4" fill="#9a52b0" fill-opacity="0.62"/><circle cx="820.9" cy="615.5" r="4.4" fill="#bfe5cf" fill-opacity="0.62"/><circle cx="831.1" cy="619.5" r="4.4" fill="#8c8c8c" fill-opacity="0.62"/><circle cx="840.3" cy="617.5" r="4.4" fill="#8e5e2c" fill-opacity="0.62"/><circle cx="842.4" cy="614.4" r="4.4" fill="#8c8c8c" fill-opacity="0.62"/><circle cx="808.6" cy="623.6" r="4.4" fill="#8c8c8c" fill-opacity="0.62"/><circle cx="816.8" cy="625.7" r="4.4" fill="#c07cc8" fill-opacity="0.62"/><circle cx="825.0" cy="622.6" r="4.4" fill="#9a52b0" fill-opacity="0.62"/><circle cx="833.2" cy="626.7" r="4.4" fill="#8e5e2c" fill-opacity="0.62"/><circle cx="839.3" cy="623.6" r="4.4" fill="#e79ac4" fill-opacity="0.62"/><circle cx="807.6" cy="631.8" r="4.4" fill="#dcecb0" fill-opacity="0.62"/><circle cx="814.8" cy="632.8" r="4.4" fill="#9a52b0" fill-opacity="0.62"/><circle cx="823.0" cy="629.8" r="4.4" fill="#e79ac4" fill-opacity="0.62"/><circle cx="831.1" cy="631.8" r="4.4" fill="#8c8c8c" fill-opacity="0.62"/><circle cx="841.4" cy="633.9" r="4.4" fill="#e79ac4" fill-opacity="0.62"/><circle cx="808.6" cy="639.0" r="4.4" fill="#a83a5e" fill-opacity="0.62"/><circle cx="816.8" cy="636.9" r="4.4" fill="#8e5e2c" fill-opacity="0.62"/><circle cx="825.0" cy="638.0" r="4.4" fill="#9a52b0" fill-opacity="0.62"/><circle cx="833.2" cy="639.0" r="4.4" fill="#8c8c8c" fill-opacity="0.62"/><circle cx="839.3" cy="641.0" r="4.4" fill="#b4d84a" fill-opacity="0.62"/><circle cx="807.6" cy="644.1" r="4.4" fill="#bfe5cf" fill-opacity="0.62"/><circle cx="814.8" cy="645.1" r="4.4" fill="#9a52b0" fill-opacity="0.62"/><circle cx="823.0" cy="643.1" r="4.4" fill="#9a52b0" fill-opacity="0.62"/><circle cx="831.1" cy="648.2" r="4.4" fill="#8c8c8c" fill-opacity="0.62"/><circle cx="837.3" cy="647.2" r="4.4" fill="#e79ac4" fill-opacity="0.62"/><circle cx="808.6" cy="650.2" r="4.4" fill="#a83a5e" fill-opacity="0.62"/><circle cx="814.8" cy="651.2" r="4.4" fill="#d8405a" fill-opacity="0.62"/><circle cx="818.9" cy="651.2" r="4.4" fill="#9a52b0" fill-opacity="0.62"/><circle cx="829.1" cy="653.3" r="4.4" fill="#8c8c8c" fill-opacity="0.62"/><circle cx="834.2" cy="654.3" r="4.4" fill="#e79ac4" fill-opacity="0.62"/><circle cx="831.1" cy="657.4" r="4.4" fill="#8c8c8c" fill-opacity="0.62"/><circle cx="837.3" cy="659.4" r="4.4" fill="#9a52b0" fill-opacity="0.62"/><circle cx="841.4" cy="656.4" r="4.4" fill="#e79ac4" fill-opacity="0.62"/><circle cx="807.6" cy="663.5" r="4.4" fill="#4a5fae" fill-opacity="0.62"/><circle cx="833.2" cy="667.6" r="4.4" fill="#4a5fae" fill-opacity="0.62"/><circle cx="840.3" cy="667.6" r="4.4" fill="#dcecb0" fill-opacity="0.62"/><circle cx="812.7" cy="673.8" r="4.4" fill="#9a52b0" fill-opacity="0.62"/><circle cx="820.9" cy="670.7" r="4.4" fill="#bfe5cf" fill-opacity="0.62"/><circle cx="833.2" cy="673.8" r="4.4" fill="#8e5e2c" fill-opacity="0.62"/><circle cx="838.3" cy="675.8" r="4.4" fill="#8c8c8c" fill-opacity="0.62"/><circle cx="843.4" cy="675.8" r="4.4" fill="#8c8c8c" fill-opacity="0.62"/><circle cx="812.7" cy="678.9" r="4.4" fill="#4f9a88" fill-opacity="0.62"/><circle cx="817.8" cy="680.9" r="4.4" fill="#4a5fae" fill-opacity="0.62"/><circle cx="839.3" cy="683.0" r="4.4" fill="#9a52b0" fill-opacity="0.62"/><circle cx="839.9" cy="691.1" r="4.4" fill="#d8405a" fill-opacity="0.62"/><circle cx="813.8" cy="700.3" r="4.4" fill="#e79ac4" fill-opacity="0.62"/><circle cx="817.8" cy="705.5" r="4.4" fill="#f0d0d8" fill-opacity="0.62"/><circle cx="833.8" cy="720.8" r="4.4" fill="#a08040" fill-opacity="0.62"/><line x1="101" y1="146.2" x2="561" y2="230" stroke="#8c3aa4" stroke-width="2"/><line x1="101" y1="148.6" x2="561" y2="226" stroke="#a050b8" stroke-width="2"/><line x1="101" y1="154.7" x2="561" y2="218" stroke="#d84a3a" stroke-width="2"/><line x1="101" y1="157.3" x2="561" y2="213" stroke="#c8dcb8" stroke-width="2"/><line x1="101" y1="159.0" x2="561" y2="211" stroke="#b4b0a8" stroke-width="2"/><line x1="101" y1="160.8" x2="561" y2="209" stroke="#a08aa0" stroke-width="2"/><line x1="101" y1="162.0" x2="561" y2="207.5" stroke="#9a8a7a" stroke-width="1.5"/><line x1="101" y1="164.9" x2="561" y2="203.5" stroke="#000000" stroke-width="4.8"/><line x1="101" y1="168.6" x2="561" y2="198" stroke="#b070c8" stroke-width="2"/><line x1="101" y1="171.0" x2="561" y2="195.5" stroke="#d8a060" stroke-width="2"/><line x1="101" y1="173.4" x2="561" y2="193.5" stroke="#80c0a8" stroke-width="2"/><line x1="101" y1="175.1" x2="561" y2="192.2" stroke="#80c8e0" stroke-width="2"/><line x1="101" y1="180.7" x2="561" y2="183.4" stroke="#3f7fc0" stroke-width="2"/><line x1="101" y1="186.4" x2="561" y2="175.1" stroke="#d0a8d8" stroke-width="2"/><line x1="101" y1="558.2" x2="561" y2="645.6" stroke="#7a3090" stroke-width="1.6"/><line x1="101" y1="560.5" x2="561" y2="642.5" stroke="#e0d0e8" stroke-width="1.5"/><line x1="101" y1="562.6" x2="561" y2="639.2" stroke="#a040b0" stroke-width="2.2"/><line x1="101" y1="565.5" x2="561" y2="636" stroke="#c8dcd0" stroke-width="1.8"/><line x1="101" y1="567.7" x2="561" y2="634" stroke="#c89070" stroke-width="1.8"/><line x1="101" y1="569.3" x2="561" y2="632.5" stroke="#d8c0a8" stroke-width="1.5"/><line x1="101" y1="572.9" x2="561" y2="625.7" stroke="#000000" stroke-width="4.6"/><line x1="101" y1="576.2" x2="561" y2="620" stroke="#80c8e0" stroke-width="1.8"/><line x1="101" y1="578.6" x2="561" y2="617" stroke="#b04890" stroke-width="1.8"/><line x1="101" y1="580.7" x2="561" y2="614" stroke="#40a090" stroke-width="1.8"/><line x1="101" y1="583.4" x2="561" y2="611.5" stroke="#a8a8a8" stroke-width="1.8"/><line x1="101" y1="585.5" x2="561" y2="609.8" stroke="#c8c8c8" stroke-width="1.8"/><line x1="101" y1="590.9" x2="561" y2="601.3" stroke="#c8a8d4" stroke-width="1.8"/><line x1="733.8" y1="164.4" x2="733.8" y2="177.3" stroke="#000" stroke-width="4"/><line x1="711.0" y1="164.4" x2="756.5999999999999" y2="164.4" stroke="#000" stroke-width="4.2"/><line x1="711.0" y1="177.3" x2="756.5999999999999" y2="177.3" stroke="#000" stroke-width="4.2"/><circle cx="733.8" cy="170.9" r="5.4" fill="#000"/><line x1="825" y1="184.4" x2="825" y2="195.2" stroke="#000" stroke-width="4"/><line x1="802.2" y1="184.4" x2="847.8" y2="184.4" stroke="#000" stroke-width="4.2"/><line x1="802.2" y1="195.2" x2="847.8" y2="195.2" stroke="#000" stroke-width="4.2"/><circle cx="825" cy="189.6" r="5.4" fill="#000"/><line x1="733.8" y1="578" x2="733.8" y2="591.7" stroke="#000" stroke-width="4"/><line x1="711.0" y1="578" x2="756.5999999999999" y2="578" stroke="#000" stroke-width="4.2"/><line x1="711.0" y1="591.7" x2="756.5999999999999" y2="591.7" stroke="#000" stroke-width="4.2"/><circle cx="733.8" cy="585.1" r="5.4" fill="#000"/><line x1="825" y1="597.5" x2="825" y2="608.4" stroke="#000" stroke-width="4"/><line x1="802.2" y1="597.5" x2="847.8" y2="597.5" stroke="#000" stroke-width="4.2"/><line x1="802.2" y1="608.4" x2="847.8" y2="608.4" stroke="#000" stroke-width="4.2"/><circle cx="825" cy="602.7" r="5.4" fill="#000"/><rect x="75.8" y="0.5" width="4.6" height="365.8" fill="#000"/><rect x="75.8" y="361.8" width="497.40000000000003" height="4.5" fill="#000"/><rect x="676.9" y="0.5" width="4.6" height="365.8" fill="#000"/><rect x="676.9" y="361.8" width="203.10000000000002" height="4.5" fill="#000"/><rect x="69.9" y="80.3" width="6" height="3.8" fill="#333"/><rect x="670.9" y="80.3" width="6" height="3.8" fill="#333"/><text transform="translate(65.30 91.00) scale(1 1.04)" text-anchor="end" fill="#4d4d4d" font-size="29.1">2</text><text transform="translate(666.60 91.00) scale(1 1.04)" text-anchor="end" fill="#4d4d4d" font-size="29.1">2</text><rect x="69.9" y="180.1" width="6" height="3.8" fill="#333"/><rect x="670.9" y="180.1" width="6" height="3.8" fill="#333"/><text transform="translate(65.30 190.80) scale(1 1.04)" text-anchor="end" fill="#4d4d4d" font-size="29.1">0</text><text transform="translate(666.60 190.80) scale(1 1.04)" text-anchor="end" fill="#4d4d4d" font-size="29.1">0</text><rect x="69.9" y="279.9" width="6" height="3.8" fill="#333"/><rect x="670.9" y="279.9" width="6" height="3.8" fill="#333"/><text transform="translate(67.10 290.60) scale(1 1.04)" text-anchor="end" fill="#4d4d4d" font-size="29.1">−2</text><text transform="translate(667.90 290.60) scale(1 1.04)" text-anchor="end" fill="#4d4d4d" font-size="29.1">−2</text><rect x="117.1" y="366.2" width="3.8" height="6" fill="#333"/><text transform="translate(120.90 397.20) scale(1 1.04)" text-anchor="middle" fill="#4d4d4d" font-size="29.1">−2</text><rect x="294.1" y="366.2" width="3.8" height="6" fill="#333"/><text transform="translate(297.00 397.20) scale(1 1.04)" text-anchor="middle" fill="#4d4d4d" font-size="29.1">0</text><rect x="471.1" y="366.2" width="3.8" height="6" fill="#333"/><text transform="translate(473.00 397.20) scale(1 1.04)" text-anchor="middle" fill="#4d4d4d" font-size="29.1">2</text><rect x="732.0" y="366.2" width="3.8" height="6" fill="#333"/><text transform="translate(734.50 397.60) scale(1 1.04)" text-anchor="middle" fill="#4d4d4d" font-size="29.1">low</text><rect x="823.1" y="366.2" width="3.8" height="6" fill="#333"/><text transform="translate(826.20 397.60) scale(1 1.04)" text-anchor="middle" fill="#4d4d4d" font-size="29.1">high</text><rect x="75.8" y="413.5" width="4.6" height="365.8" fill="#000"/><rect x="75.8" y="774.8" width="497.40000000000003" height="4.5" fill="#000"/><rect x="676.9" y="413.5" width="4.6" height="365.8" fill="#000"/><rect x="676.9" y="774.8" width="203.10000000000002" height="4.5" fill="#000"/><rect x="69.9" y="493.3" width="6" height="3.8" fill="#333"/><rect x="670.9" y="493.3" width="6" height="3.8" fill="#333"/><text transform="translate(65.30 504.00) scale(1 1.04)" text-anchor="end" fill="#4d4d4d" font-size="29.1">2</text><text transform="translate(666.60 504.00) scale(1 1.04)" text-anchor="end" fill="#4d4d4d" font-size="29.1">2</text><rect x="69.9" y="593.1" width="6" height="3.8" fill="#333"/><rect x="670.9" y="593.1" width="6" height="3.8" fill="#333"/><text transform="translate(65.30 603.80) scale(1 1.04)" text-anchor="end" fill="#4d4d4d" font-size="29.1">0</text><text transform="translate(666.60 603.80) scale(1 1.04)" text-anchor="end" fill="#4d4d4d" font-size="29.1">0</text><rect x="69.9" y="692.9" width="6" height="3.8" fill="#333"/><rect x="670.9" y="692.9" width="6" height="3.8" fill="#333"/><text transform="translate(67.10 703.60) scale(1 1.04)" text-anchor="end" fill="#4d4d4d" font-size="29.1">−2</text><text transform="translate(667.90 703.60) scale(1 1.04)" text-anchor="end" fill="#4d4d4d" font-size="29.1">−2</text><rect x="117.1" y="779.2" width="3.8" height="6" fill="#333"/><text transform="translate(120.90 810.20) scale(1 1.04)" text-anchor="middle" fill="#4d4d4d" font-size="29.1">−2</text><rect x="294.1" y="779.2" width="3.8" height="6" fill="#333"/><text transform="translate(297.00 810.20) scale(1 1.04)" text-anchor="middle" fill="#4d4d4d" font-size="29.1">0</text><rect x="471.1" y="779.2" width="3.8" height="6" fill="#333"/><text transform="translate(473.00 810.20) scale(1 1.04)" text-anchor="middle" fill="#4d4d4d" font-size="29.1">2</text><rect x="732.0" y="779.2" width="3.8" height="6" fill="#333"/><text transform="translate(734.50 810.60) scale(1 1.04)" text-anchor="middle" fill="#4d4d4d" font-size="29.1">low</text><rect x="823.1" y="779.2" width="3.8" height="6" fill="#333"/><text transform="translate(826.20 810.60) scale(1 1.04)" text-anchor="middle" fill="#4d4d4d" font-size="29.1">high</text><text transform="translate(88.50 346.00) scale(1 1.04)" fill="#000" font-size="29.1"><tspan font-style="italic">p</tspan> = 0.007</text><text transform="translate(688.50 346.00) scale(1 1.04)" fill="#000" font-size="29.1"><tspan font-style="italic">p</tspan> &lt; 0.001</text><text transform="translate(88.50 757.30) scale(1 1.04)" fill="#000" font-size="29.1"><tspan font-style="italic">p</tspan> &lt; 0.001</text><text transform="translate(688.50 756.80) scale(1 1.04)" fill="#000" font-size="29.1"><tspan font-style="italic">p</tspan> &lt; 0.001</text><text transform="translate(325.50 846.90) scale(1 1.04)" text-anchor="middle" fill="#000" font-size="29.1">Pesticide HQ</text><text transform="translate(775.40 846.90) scale(1 1.04)" text-anchor="middle" fill="#000" font-size="29.1">Pesticide use</text><text transform="translate(779.00 881.40) scale(1 1.04)" text-anchor="middle" fill="#000" font-size="29.1">intensity</text><text transform="translate(25.00 190.30) rotate(-90) scale(1 1.04)" text-anchor="middle" fill="#000" font-size="29.1">Functional diversity</text><text transform="translate(25.00 599.60) rotate(-90) scale(1 1.04)" text-anchor="middle" fill="#000" font-size="29.1">Phylogenetic diversity</text></svg>
</body></html>
